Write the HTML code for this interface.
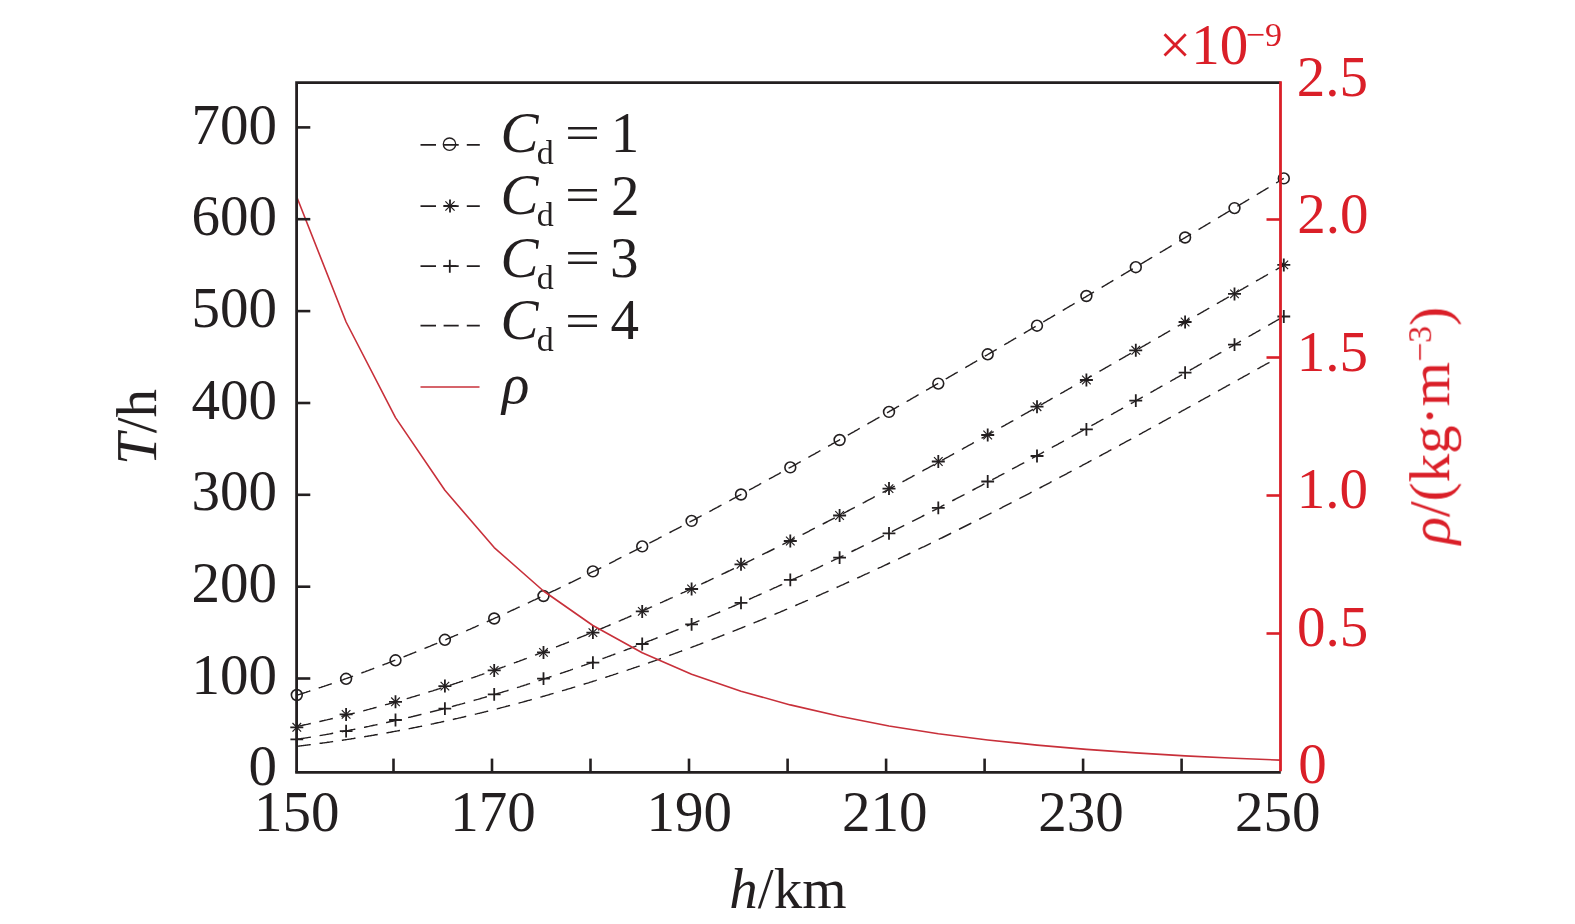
<!DOCTYPE html><html><head><meta charset="utf-8"><style>html,body{margin:0;padding:0;background:#fff;}svg{display:block;}svg text{will-change:transform;}text{font-family:"Liberation Serif","Times New Roman",serif;}</style></head><body>
<svg width="1575" height="924" viewBox="0 0 1575 924">
<rect x="0" y="0" width="1575" height="924" fill="#fff"/>
<polyline points="296.8,695.3 297.8,694.9 298.8,694.6 299.8,694.3 300.8,694.0 301.8,693.7 302.8,693.3 303.8,693.0 304.8,692.7 305.8,692.4 306.8,692.0 307.8,691.7 308.8,691.4 309.8,691.0 310.8,690.7 311.8,690.4 312.8,690.1 313.8,689.7 314.8,689.4 315.8,689.1 316.8,688.7 317.8,688.4 318.8,688.0 319.8,687.7 320.8,687.4 321.8,687.0 322.8,686.7 323.8,686.4 324.8,686.0 325.8,685.7 326.8,685.3 327.8,685.0 328.8,684.6 329.8,684.3 330.8,684.0 331.8,683.6 332.8,683.3 333.8,682.9 334.8,682.6 335.8,682.2 336.8,681.9 337.8,681.5 338.8,681.2 339.8,680.8 340.8,680.5 341.8,680.1 342.8,679.8 343.8,679.4 344.8,679.0 345.8,678.7 346.8,678.3 347.8,678.0 348.8,677.6 349.8,677.3 350.8,676.9 351.8,676.5 352.8,676.2 353.8,675.8 354.8,675.4 355.8,675.1 356.8,674.7 357.8,674.4 358.8,674.0 359.8,673.6 360.8,673.3 361.8,672.9 362.8,672.5 363.8,672.1 364.8,671.8 365.8,671.4 366.8,671.0 367.8,670.7 368.8,670.3 369.8,669.9 370.8,669.5 371.8,669.2 372.8,668.8 373.8,668.4 374.8,668.0 375.8,667.7 376.8,667.3 377.8,666.9 378.8,666.5 379.8,666.1 380.8,665.8 381.8,665.4 382.8,665.0 383.8,664.6 384.8,664.2 385.8,663.8 386.8,663.5 387.8,663.1 388.8,662.7 389.8,662.3 390.8,661.9 391.8,661.5 392.8,661.1 393.8,660.7 394.8,660.3 395.8,660.0 396.8,659.6 397.8,659.2 398.8,658.8 399.8,658.4 400.8,658.0 401.8,657.6 402.8,657.2 403.8,656.8 404.8,656.4 405.8,656.0 406.8,655.6 407.8,655.2 408.8,654.8 409.8,654.4 410.8,654.0 411.8,653.6 412.8,653.2 413.8,652.8 414.8,652.4 415.8,652.0 416.8,651.6 417.8,651.2 418.8,650.8 419.8,650.4 420.8,650.0 421.8,649.5 422.8,649.1 423.8,648.7 424.8,648.3 425.8,647.9 426.8,647.5 427.8,647.1 428.8,646.7 429.8,646.3 430.8,645.8 431.8,645.4 432.8,645.0 433.8,644.6 434.8,644.2 435.8,643.8 436.8,643.4 437.8,642.9 438.8,642.5 439.8,642.1 440.8,641.7 441.8,641.3 442.8,640.8 443.8,640.4 444.8,640.0 445.8,639.6 446.8,639.1 447.8,638.7 448.8,638.3 449.8,637.9 450.8,637.4 451.8,637.0 452.8,636.6 453.8,636.2 454.8,635.7 455.8,635.3 456.8,634.9 457.8,634.5 458.8,634.0 459.8,633.6 460.8,633.2 461.8,632.7 462.8,632.3 463.8,631.9 464.8,631.4 465.8,631.0 466.8,630.6 467.8,630.1 468.8,629.7 469.8,629.3 470.8,628.8 471.8,628.4 472.8,627.9 473.8,627.5 474.8,627.1 475.8,626.6 476.8,626.2 477.8,625.7 478.8,625.3 479.8,624.9 480.8,624.4 481.8,624.0 482.8,623.5 483.8,623.1 484.8,622.6 485.8,622.2 486.8,621.8 487.8,621.3 488.8,620.9 489.8,620.4 490.8,620.0 491.8,619.5 492.8,619.1 493.8,618.6 494.8,618.2 495.8,617.7 496.8,617.3 497.8,616.8 498.8,616.4 499.8,615.9 500.8,615.5 501.8,615.0 502.8,614.5 503.8,614.1 504.8,613.6 505.8,613.2 506.8,612.7 507.8,612.3 508.8,611.8 509.8,611.4 510.8,610.9 511.8,610.4 512.8,610.0 513.8,609.5 514.8,609.1 515.8,608.6 516.8,608.1 517.8,607.7 518.8,607.2 519.8,606.8 520.8,606.3 521.8,605.8 522.8,605.4 523.8,604.9 524.8,604.4 525.8,604.0 526.8,603.5 527.8,603.0 528.8,602.6 529.8,602.1 530.8,601.6 531.8,601.2 532.8,600.7 533.8,600.2 534.8,599.8 535.8,599.3 536.8,598.8 537.8,598.3 538.8,597.9 539.8,597.4 540.8,596.9 541.8,596.5 542.8,596.0 543.8,595.5 544.8,595.0 545.8,594.6 546.8,594.1 547.8,593.6 548.8,593.1 549.8,592.7 550.8,592.2 551.8,591.7 552.8,591.2 553.8,590.7 554.8,590.3 555.8,589.8 556.8,589.3 557.8,588.8 558.8,588.3 559.8,587.9 560.8,587.4 561.8,586.9 562.8,586.4 563.8,585.9 564.8,585.5 565.8,585.0 566.8,584.5 567.8,584.0 568.8,583.5 569.8,583.0 570.8,582.5 571.8,582.1 572.8,581.6 573.8,581.1 574.8,580.6 575.8,580.1 576.8,579.6 577.8,579.1 578.8,578.6 579.8,578.1 580.8,577.7 581.8,577.2 582.8,576.7 583.8,576.2 584.8,575.7 585.8,575.2 586.8,574.7 587.8,574.2 588.8,573.7 589.8,573.2 590.8,572.7 591.8,572.2 592.8,571.7 593.8,571.2 594.8,570.8 595.8,570.3 596.8,569.8 597.8,569.3 598.8,568.8 599.8,568.3 600.8,567.8 601.8,567.3 602.8,566.8 603.8,566.3 604.8,565.8 605.8,565.3 606.8,564.8 607.8,564.3 608.8,563.8 609.8,563.3 610.8,562.8 611.8,562.3 612.8,561.8 613.8,561.3 614.8,560.8 615.8,560.2 616.8,559.7 617.8,559.2 618.8,558.7 619.8,558.2 620.8,557.7 621.8,557.2 622.8,556.7 623.8,556.2 624.8,555.7 625.8,555.2 626.8,554.7 627.8,554.2 628.8,553.7 629.8,553.2 630.8,552.6 631.8,552.1 632.8,551.6 633.8,551.1 634.8,550.6 635.8,550.1 636.8,549.6 637.8,549.1 638.8,548.6 639.8,548.0 640.8,547.5 641.8,547.0 642.8,546.5 643.8,546.0 644.8,545.5 645.8,545.0 646.8,544.4 647.8,543.9 648.8,543.4 649.8,542.9 650.8,542.4 651.8,541.9 652.8,541.3 653.8,540.8 654.8,540.3 655.8,539.8 656.8,539.3 657.8,538.8 658.8,538.2 659.8,537.7 660.8,537.2 661.8,536.7 662.8,536.2 663.8,535.6 664.8,535.1 665.8,534.6 666.8,534.1 667.8,533.5 668.8,533.0 669.8,532.5 670.8,532.0 671.8,531.5 672.8,530.9 673.8,530.4 674.8,529.9 675.8,529.4 676.8,528.8 677.8,528.3 678.8,527.8 679.8,527.3 680.8,526.7 681.8,526.2 682.8,525.7 683.8,525.1 684.8,524.6 685.8,524.1 686.8,523.6 687.8,523.0 688.8,522.5 689.8,522.0 690.8,521.4 691.8,520.9 692.8,520.4 693.8,519.9 694.8,519.3 695.8,518.8 696.8,518.3 697.8,517.7 698.8,517.2 699.8,516.7 700.8,516.1 701.8,515.6 702.8,515.1 703.8,514.5 704.8,514.0 705.8,513.5 706.8,512.9 707.8,512.4 708.8,511.9 709.8,511.3 710.8,510.8 711.8,510.3 712.8,509.7 713.8,509.2 714.8,508.6 715.8,508.1 716.8,507.6 717.8,507.0 718.8,506.5 719.8,506.0 720.8,505.4 721.8,504.9 722.8,504.3 723.8,503.8 724.8,503.3 725.8,502.7 726.8,502.2 727.8,501.7 728.8,501.1 729.8,500.6 730.8,500.0 731.8,499.5 732.8,498.9 733.8,498.4 734.8,497.9 735.8,497.3 736.8,496.8 737.8,496.2 738.8,495.7 739.8,495.2 740.8,494.6 741.8,494.1 742.8,493.5 743.8,493.0 744.8,492.4 745.8,491.9 746.8,491.3 747.8,490.8 748.8,490.3 749.8,489.7 750.8,489.2 751.8,488.6 752.8,488.1 753.8,487.5 754.8,487.0 755.8,486.4 756.8,485.9 757.8,485.3 758.8,484.8 759.8,484.2 760.8,483.7 761.8,483.1 762.8,482.6 763.8,482.0 764.8,481.5 765.8,480.9 766.8,480.4 767.8,479.8 768.8,479.3 769.8,478.7 770.8,478.2 771.8,477.6 772.8,477.1 773.8,476.5 774.8,476.0 775.8,475.4 776.8,474.9 777.8,474.3 778.8,473.8 779.8,473.2 780.8,472.7 781.8,472.1 782.8,471.6 783.8,471.0 784.8,470.5 785.8,469.9 786.8,469.4 787.8,468.8 788.8,468.2 789.8,467.7 790.8,467.1 791.8,466.6 792.8,466.0 793.8,465.5 794.8,464.9 795.8,464.4 796.8,463.8 797.8,463.2 798.8,462.7 799.8,462.1 800.8,461.6 801.8,461.0 802.8,460.5 803.8,459.9 804.8,459.3 805.8,458.8 806.8,458.2 807.8,457.7 808.8,457.1 809.8,456.5 810.8,456.0 811.8,455.4 812.8,454.9 813.8,454.3 814.8,453.8 815.8,453.2 816.8,452.6 817.8,452.1 818.8,451.5 819.8,450.9 820.8,450.4 821.8,449.8 822.8,449.3 823.8,448.7 824.8,448.1 825.8,447.6 826.8,447.0 827.8,446.5 828.8,445.9 829.8,445.3 830.8,444.8 831.8,444.2 832.8,443.6 833.8,443.1 834.8,442.5 835.8,441.9 836.8,441.4 837.8,440.8 838.8,440.3 839.8,439.7 840.8,439.1 841.8,438.6 842.8,438.0 843.8,437.4 844.8,436.9 845.8,436.3 846.8,435.7 847.8,435.2 848.8,434.6 849.8,434.0 850.8,433.5 851.8,432.9 852.8,432.3 853.8,431.8 854.8,431.2 855.8,430.6 856.8,430.1 857.8,429.5 858.8,428.9 859.8,428.4 860.8,427.8 861.8,427.2 862.8,426.7 863.8,426.1 864.8,425.5 865.8,424.9 866.8,424.4 867.8,423.8 868.8,423.2 869.8,422.7 870.8,422.1 871.8,421.5 872.8,421.0 873.8,420.4 874.8,419.8 875.8,419.2 876.8,418.7 877.8,418.1 878.8,417.5 879.8,417.0 880.8,416.4 881.8,415.8 882.8,415.2 883.8,414.7 884.8,414.1 885.8,413.5 886.8,413.0 887.8,412.4 888.8,411.8 889.8,411.2 890.8,410.7 891.8,410.1 892.8,409.5 893.8,408.9 894.8,408.4 895.8,407.8 896.8,407.2 897.8,406.7 898.8,406.1 899.8,405.5 900.8,404.9 901.8,404.4 902.8,403.8 903.8,403.2 904.8,402.6 905.8,402.1 906.8,401.5 907.8,400.9 908.8,400.3 909.8,399.8 910.8,399.2 911.8,398.6 912.8,398.0 913.8,397.4 914.8,396.9 915.8,396.3 916.8,395.7 917.8,395.1 918.8,394.6 919.8,394.0 920.8,393.4 921.8,392.8 922.8,392.3 923.8,391.7 924.8,391.1 925.8,390.5 926.8,389.9 927.8,389.4 928.8,388.8 929.8,388.2 930.8,387.6 931.8,387.1 932.8,386.5 933.8,385.9 934.8,385.3 935.8,384.7 936.8,384.2 937.8,383.6 938.8,383.0 939.8,382.4 940.8,381.8 941.8,381.3 942.8,380.7 943.8,380.1 944.8,379.5 945.8,378.9 946.8,378.4 947.8,377.8 948.8,377.2 949.8,376.6 950.8,376.0 951.8,375.5 952.8,374.9 953.8,374.3 954.8,373.7 955.8,373.1 956.8,372.6 957.8,372.0 958.8,371.4 959.8,370.8 960.8,370.2 961.8,369.6 962.8,369.1 963.8,368.5 964.8,367.9 965.8,367.3 966.8,366.7 967.8,366.2 968.8,365.6 969.8,365.0 970.8,364.4 971.8,363.8 972.8,363.2 973.8,362.7 974.8,362.1 975.8,361.5 976.8,360.9 977.8,360.3 978.8,359.7 979.8,359.2 980.8,358.6 981.8,358.0 982.8,357.4 983.8,356.8 984.8,356.2 985.8,355.6 986.8,355.1 987.8,354.5 988.8,353.9 989.8,353.3 990.8,352.7 991.8,352.1 992.8,351.6 993.8,351.0 994.8,350.4 995.8,349.8 996.8,349.2 997.8,348.6 998.8,348.0 999.8,347.5 1000.8,346.9 1001.8,346.3 1002.8,345.7 1003.8,345.1 1004.8,344.5 1005.8,343.9 1006.8,343.3 1007.8,342.8 1008.8,342.2 1009.8,341.6 1010.8,341.0 1011.8,340.4 1012.8,339.8 1013.8,339.2 1014.8,338.7 1015.8,338.1 1016.8,337.5 1017.8,336.9 1018.8,336.3 1019.8,335.7 1020.8,335.1 1021.8,334.5 1022.8,334.0 1023.8,333.4 1024.8,332.8 1025.8,332.2 1026.8,331.6 1027.8,331.0 1028.8,330.4 1029.8,329.8 1030.8,329.2 1031.8,328.7 1032.8,328.1 1033.8,327.5 1034.8,326.9 1035.8,326.3 1036.8,325.7 1037.8,325.1 1038.8,324.5 1039.8,323.9 1040.8,323.4 1041.8,322.8 1042.8,322.2 1043.8,321.6 1044.8,321.0 1045.8,320.4 1046.8,319.8 1047.8,319.2 1048.8,318.6 1049.8,318.1 1050.8,317.5 1051.8,316.9 1052.8,316.3 1053.8,315.7 1054.8,315.1 1055.8,314.5 1056.8,313.9 1057.8,313.3 1058.8,312.7 1059.8,312.1 1060.8,311.6 1061.8,311.0 1062.8,310.4 1063.8,309.8 1064.8,309.2 1065.8,308.6 1066.8,308.0 1067.8,307.4 1068.8,306.8 1069.8,306.2 1070.8,305.6 1071.8,305.1 1072.8,304.5 1073.8,303.9 1074.8,303.3 1075.8,302.7 1076.8,302.1 1077.8,301.5 1078.8,300.9 1079.8,300.3 1080.8,299.7 1081.8,299.1 1082.8,298.5 1083.8,297.9 1084.8,297.4 1085.8,296.8 1086.8,296.2 1087.8,295.6 1088.8,295.0 1089.8,294.4 1090.8,293.8 1091.8,293.2 1092.8,292.6 1093.8,292.0 1094.8,291.4 1095.8,290.8 1096.8,290.2 1097.8,289.6 1098.8,289.1 1099.8,288.5 1100.8,287.9 1101.8,287.3 1102.8,286.7 1103.8,286.1 1104.8,285.5 1105.8,284.9 1106.8,284.3 1107.8,283.7 1108.8,283.1 1109.8,282.5 1110.8,281.9 1111.8,281.3 1112.8,280.7 1113.8,280.1 1114.8,279.6 1115.8,279.0 1116.8,278.4 1117.8,277.8 1118.8,277.2 1119.8,276.6 1120.8,276.0 1121.8,275.4 1122.8,274.8 1123.8,274.2 1124.8,273.6 1125.8,273.0 1126.8,272.4 1127.8,271.8 1128.8,271.2 1129.8,270.6 1130.8,270.0 1131.8,269.4 1132.8,268.8 1133.8,268.2 1134.8,267.7 1135.8,267.1 1136.8,266.5 1137.8,265.9 1138.8,265.3 1139.8,264.7 1140.8,264.1 1141.8,263.5 1142.8,262.9 1143.8,262.3 1144.8,261.7 1145.8,261.1 1146.8,260.5 1147.8,259.9 1148.8,259.3 1149.8,258.7 1150.8,258.1 1151.8,257.5 1152.8,256.9 1153.8,256.3 1154.8,255.7 1155.8,255.1 1156.8,254.5 1157.8,253.9 1158.8,253.3 1159.8,252.7 1160.8,252.1 1161.8,251.6 1162.8,251.0 1163.8,250.4 1164.8,249.8 1165.8,249.2 1166.8,248.6 1167.8,248.0 1168.8,247.4 1169.8,246.8 1170.8,246.2 1171.8,245.6 1172.8,245.0 1173.8,244.4 1174.8,243.8 1175.8,243.2 1176.8,242.6 1177.8,242.0 1178.8,241.4 1179.8,240.8 1180.8,240.2 1181.8,239.6 1182.8,239.0 1183.8,238.4 1184.8,237.8 1185.8,237.2 1186.8,236.6 1187.8,236.0 1188.8,235.4 1189.8,234.8 1190.8,234.2 1191.8,233.6 1192.8,233.0 1193.8,232.4 1194.8,231.8 1195.8,231.2 1196.8,230.6 1197.8,230.0 1198.8,229.4 1199.8,228.8 1200.8,228.2 1201.8,227.6 1202.8,227.0 1203.8,226.4 1204.8,225.8 1205.8,225.2 1206.8,224.6 1207.8,224.0 1208.8,223.4 1209.8,222.8 1210.8,222.2 1211.8,221.6 1212.8,221.0 1213.8,220.4 1214.8,219.8 1215.8,219.2 1216.8,218.6 1217.8,218.0 1218.8,217.4 1219.8,216.8 1220.8,216.2 1221.8,215.6 1222.8,215.0 1223.8,214.4 1224.8,213.8 1225.8,213.2 1226.8,212.6 1227.8,212.0 1228.8,211.4 1229.8,210.8 1230.8,210.2 1231.8,209.6 1232.8,209.0 1233.8,208.4 1234.8,207.8 1235.8,207.2 1236.8,206.6 1237.8,206.0 1238.8,205.4 1239.8,204.8 1240.8,204.2 1241.8,203.6 1242.8,203.0 1243.8,202.4 1244.8,201.8 1245.8,201.2 1246.8,200.6 1247.8,200.0 1248.8,199.4 1249.8,198.8 1250.8,198.2 1251.8,197.6 1252.8,197.0 1253.8,196.4 1254.8,195.8 1255.8,195.2 1256.8,194.6 1257.8,194.0 1258.8,193.4 1259.8,192.8 1260.8,192.2 1261.8,191.6 1262.8,191.0 1263.8,190.4 1264.8,189.8 1265.8,189.2 1266.8,188.6 1267.8,188.0 1268.8,187.4 1269.8,186.8 1270.8,186.2 1271.8,185.6 1272.8,185.0 1273.8,184.4 1274.8,183.8 1275.8,183.2 1276.8,182.6 1277.8,182.0 1278.8,181.4 1279.8,180.7 1280.8,180.1 1281.8,179.5 1282.8,178.9 1283.8,178.3" fill="none" stroke="#231f20" stroke-width="1.4" stroke-dasharray="13.8 8.8" stroke-dashoffset="22.1"/>
<polyline points="296.8,726.5 297.8,726.3 298.8,726.1 299.8,725.9 300.8,725.7 301.8,725.5 302.8,725.2 303.8,725.0 304.8,724.8 305.8,724.6 306.8,724.4 307.8,724.2 308.8,723.9 309.8,723.7 310.8,723.5 311.8,723.3 312.8,723.1 313.8,722.8 314.8,722.6 315.8,722.4 316.8,722.2 317.8,721.9 318.8,721.7 319.8,721.5 320.8,721.3 321.8,721.0 322.8,720.8 323.8,720.6 324.8,720.3 325.8,720.1 326.8,719.9 327.8,719.6 328.8,719.4 329.8,719.2 330.8,718.9 331.8,718.7 332.8,718.5 333.8,718.2 334.8,718.0 335.8,717.7 336.8,717.5 337.8,717.2 338.8,717.0 339.8,716.8 340.8,716.5 341.8,716.3 342.8,716.0 343.8,715.8 344.8,715.5 345.8,715.3 346.8,715.0 347.8,714.8 348.8,714.5 349.8,714.3 350.8,714.0 351.8,713.8 352.8,713.5 353.8,713.3 354.8,713.0 355.8,712.8 356.8,712.5 357.8,712.2 358.8,712.0 359.8,711.7 360.8,711.5 361.8,711.2 362.8,710.9 363.8,710.7 364.8,710.4 365.8,710.2 366.8,709.9 367.8,709.6 368.8,709.4 369.8,709.1 370.8,708.8 371.8,708.6 372.8,708.3 373.8,708.0 374.8,707.7 375.8,707.5 376.8,707.2 377.8,706.9 378.8,706.6 379.8,706.4 380.8,706.1 381.8,705.8 382.8,705.5 383.8,705.3 384.8,705.0 385.8,704.7 386.8,704.4 387.8,704.2 388.8,703.9 389.8,703.6 390.8,703.3 391.8,703.0 392.8,702.7 393.8,702.5 394.8,702.2 395.8,701.9 396.8,701.6 397.8,701.3 398.8,701.0 399.8,700.7 400.8,700.4 401.8,700.1 402.8,699.9 403.8,699.6 404.8,699.3 405.8,699.0 406.8,698.7 407.8,698.4 408.8,698.1 409.8,697.8 410.8,697.5 411.8,697.2 412.8,696.9 413.8,696.6 414.8,696.3 415.8,696.0 416.8,695.7 417.8,695.4 418.8,695.1 419.8,694.8 420.8,694.5 421.8,694.2 422.8,693.9 423.8,693.6 424.8,693.2 425.8,692.9 426.8,692.6 427.8,692.3 428.8,692.0 429.8,691.7 430.8,691.4 431.8,691.1 432.8,690.8 433.8,690.4 434.8,690.1 435.8,689.8 436.8,689.5 437.8,689.2 438.8,688.9 439.8,688.5 440.8,688.2 441.8,687.9 442.8,687.6 443.8,687.3 444.8,686.9 445.8,686.6 446.8,686.3 447.8,686.0 448.8,685.7 449.8,685.3 450.8,685.0 451.8,684.7 452.8,684.3 453.8,684.0 454.8,683.7 455.8,683.4 456.8,683.0 457.8,682.7 458.8,682.4 459.8,682.0 460.8,681.7 461.8,681.4 462.8,681.0 463.8,680.7 464.8,680.4 465.8,680.0 466.8,679.7 467.8,679.4 468.8,679.0 469.8,678.7 470.8,678.3 471.8,678.0 472.8,677.7 473.8,677.3 474.8,677.0 475.8,676.6 476.8,676.3 477.8,675.9 478.8,675.6 479.8,675.2 480.8,674.9 481.8,674.6 482.8,674.2 483.8,673.9 484.8,673.5 485.8,673.2 486.8,672.8 487.8,672.5 488.8,672.1 489.8,671.8 490.8,671.4 491.8,671.1 492.8,670.7 493.8,670.3 494.8,670.0 495.8,669.6 496.8,669.3 497.8,668.9 498.8,668.6 499.8,668.2 500.8,667.8 501.8,667.5 502.8,667.1 503.8,666.8 504.8,666.4 505.8,666.0 506.8,665.7 507.8,665.3 508.8,664.9 509.8,664.6 510.8,664.2 511.8,663.8 512.8,663.5 513.8,663.1 514.8,662.7 515.8,662.4 516.8,662.0 517.8,661.6 518.8,661.3 519.8,660.9 520.8,660.5 521.8,660.2 522.8,659.8 523.8,659.4 524.8,659.0 525.8,658.7 526.8,658.3 527.8,657.9 528.8,657.5 529.8,657.1 530.8,656.8 531.8,656.4 532.8,656.0 533.8,655.6 534.8,655.3 535.8,654.9 536.8,654.5 537.8,654.1 538.8,653.7 539.8,653.3 540.8,653.0 541.8,652.6 542.8,652.2 543.8,651.8 544.8,651.4 545.8,651.0 546.8,650.6 547.8,650.2 548.8,649.9 549.8,649.5 550.8,649.1 551.8,648.7 552.8,648.3 553.8,647.9 554.8,647.5 555.8,647.1 556.8,646.7 557.8,646.3 558.8,645.9 559.8,645.5 560.8,645.1 561.8,644.7 562.8,644.4 563.8,644.0 564.8,643.6 565.8,643.2 566.8,642.8 567.8,642.4 568.8,642.0 569.8,641.6 570.8,641.2 571.8,640.7 572.8,640.3 573.8,639.9 574.8,639.5 575.8,639.1 576.8,638.7 577.8,638.3 578.8,637.9 579.8,637.5 580.8,637.1 581.8,636.7 582.8,636.3 583.8,635.9 584.8,635.5 585.8,635.1 586.8,634.6 587.8,634.2 588.8,633.8 589.8,633.4 590.8,633.0 591.8,632.6 592.8,632.2 593.8,631.8 594.8,631.3 595.8,630.9 596.8,630.5 597.8,630.1 598.8,629.7 599.8,629.3 600.8,628.8 601.8,628.4 602.8,628.0 603.8,627.6 604.8,627.2 605.8,626.7 606.8,626.3 607.8,625.9 608.8,625.5 609.8,625.0 610.8,624.6 611.8,624.2 612.8,623.8 613.8,623.3 614.8,622.9 615.8,622.5 616.8,622.1 617.8,621.6 618.8,621.2 619.8,620.8 620.8,620.3 621.8,619.9 622.8,619.5 623.8,619.1 624.8,618.6 625.8,618.2 626.8,617.8 627.8,617.3 628.8,616.9 629.8,616.5 630.8,616.0 631.8,615.6 632.8,615.1 633.8,614.7 634.8,614.3 635.8,613.8 636.8,613.4 637.8,613.0 638.8,612.5 639.8,612.1 640.8,611.6 641.8,611.2 642.8,610.8 643.8,610.3 644.8,609.9 645.8,609.4 646.8,609.0 647.8,608.5 648.8,608.1 649.8,607.7 650.8,607.2 651.8,606.8 652.8,606.3 653.8,605.9 654.8,605.4 655.8,605.0 656.8,604.5 657.8,604.1 658.8,603.6 659.8,603.2 660.8,602.7 661.8,602.3 662.8,601.8 663.8,601.4 664.8,600.9 665.8,600.5 666.8,600.0 667.8,599.6 668.8,599.1 669.8,598.7 670.8,598.2 671.8,597.8 672.8,597.3 673.8,596.8 674.8,596.4 675.8,595.9 676.8,595.5 677.8,595.0 678.8,594.6 679.8,594.1 680.8,593.6 681.8,593.2 682.8,592.7 683.8,592.3 684.8,591.8 685.8,591.3 686.8,590.9 687.8,590.4 688.8,589.9 689.8,589.5 690.8,589.0 691.8,588.6 692.8,588.1 693.8,587.6 694.8,587.2 695.8,586.7 696.8,586.2 697.8,585.8 698.8,585.3 699.8,584.8 700.8,584.3 701.8,583.9 702.8,583.4 703.8,582.9 704.8,582.5 705.8,582.0 706.8,581.5 707.8,581.1 708.8,580.6 709.8,580.1 710.8,579.6 711.8,579.2 712.8,578.7 713.8,578.2 714.8,577.7 715.8,577.3 716.8,576.8 717.8,576.3 718.8,575.8 719.8,575.4 720.8,574.9 721.8,574.4 722.8,573.9 723.8,573.4 724.8,573.0 725.8,572.5 726.8,572.0 727.8,571.5 728.8,571.0 729.8,570.6 730.8,570.1 731.8,569.6 732.8,569.1 733.8,568.6 734.8,568.1 735.8,567.7 736.8,567.2 737.8,566.7 738.8,566.2 739.8,565.7 740.8,565.2 741.8,564.7 742.8,564.3 743.8,563.8 744.8,563.3 745.8,562.8 746.8,562.3 747.8,561.8 748.8,561.3 749.8,560.8 750.8,560.4 751.8,559.9 752.8,559.4 753.8,558.9 754.8,558.4 755.8,557.9 756.8,557.4 757.8,556.9 758.8,556.4 759.8,555.9 760.8,555.4 761.8,554.9 762.8,554.4 763.8,553.9 764.8,553.4 765.8,552.9 766.8,552.5 767.8,552.0 768.8,551.5 769.8,551.0 770.8,550.5 771.8,550.0 772.8,549.5 773.8,549.0 774.8,548.5 775.8,548.0 776.8,547.5 777.8,547.0 778.8,546.5 779.8,546.0 780.8,545.5 781.8,545.0 782.8,544.5 783.8,543.9 784.8,543.4 785.8,542.9 786.8,542.4 787.8,541.9 788.8,541.4 789.8,540.9 790.8,540.4 791.8,539.9 792.8,539.4 793.8,538.9 794.8,538.4 795.8,537.9 796.8,537.4 797.8,536.9 798.8,536.4 799.8,535.8 800.8,535.3 801.8,534.8 802.8,534.3 803.8,533.8 804.8,533.3 805.8,532.8 806.8,532.3 807.8,531.8 808.8,531.3 809.8,530.7 810.8,530.2 811.8,529.7 812.8,529.2 813.8,528.7 814.8,528.2 815.8,527.7 816.8,527.1 817.8,526.6 818.8,526.1 819.8,525.6 820.8,525.1 821.8,524.6 822.8,524.0 823.8,523.5 824.8,523.0 825.8,522.5 826.8,522.0 827.8,521.5 828.8,520.9 829.8,520.4 830.8,519.9 831.8,519.4 832.8,518.9 833.8,518.3 834.8,517.8 835.8,517.3 836.8,516.8 837.8,516.2 838.8,515.7 839.8,515.2 840.8,514.7 841.8,514.2 842.8,513.6 843.8,513.1 844.8,512.6 845.8,512.1 846.8,511.5 847.8,511.0 848.8,510.5 849.8,510.0 850.8,509.4 851.8,508.9 852.8,508.4 853.8,507.9 854.8,507.3 855.8,506.8 856.8,506.3 857.8,505.7 858.8,505.2 859.8,504.7 860.8,504.2 861.8,503.6 862.8,503.1 863.8,502.6 864.8,502.0 865.8,501.5 866.8,501.0 867.8,500.4 868.8,499.9 869.8,499.4 870.8,498.8 871.8,498.3 872.8,497.8 873.8,497.2 874.8,496.7 875.8,496.2 876.8,495.6 877.8,495.1 878.8,494.6 879.8,494.0 880.8,493.5 881.8,493.0 882.8,492.4 883.8,491.9 884.8,491.4 885.8,490.8 886.8,490.3 887.8,489.8 888.8,489.2 889.8,488.7 890.8,488.1 891.8,487.6 892.8,487.1 893.8,486.5 894.8,486.0 895.8,485.4 896.8,484.9 897.8,484.4 898.8,483.8 899.8,483.3 900.8,482.7 901.8,482.2 902.8,481.7 903.8,481.1 904.8,480.6 905.8,480.0 906.8,479.5 907.8,479.0 908.8,478.4 909.8,477.9 910.8,477.3 911.8,476.8 912.8,476.2 913.8,475.7 914.8,475.2 915.8,474.6 916.8,474.1 917.8,473.5 918.8,473.0 919.8,472.4 920.8,471.9 921.8,471.3 922.8,470.8 923.8,470.2 924.8,469.7 925.8,469.2 926.8,468.6 927.8,468.1 928.8,467.5 929.8,467.0 930.8,466.4 931.8,465.9 932.8,465.3 933.8,464.8 934.8,464.2 935.8,463.7 936.8,463.1 937.8,462.6 938.8,462.0 939.8,461.5 940.8,460.9 941.8,460.4 942.8,459.8 943.8,459.3 944.8,458.7 945.8,458.2 946.8,457.6 947.8,457.1 948.8,456.5 949.8,456.0 950.8,455.4 951.8,454.9 952.8,454.3 953.8,453.7 954.8,453.2 955.8,452.6 956.8,452.1 957.8,451.5 958.8,451.0 959.8,450.4 960.8,449.9 961.8,449.3 962.8,448.8 963.8,448.2 964.8,447.6 965.8,447.1 966.8,446.5 967.8,446.0 968.8,445.4 969.8,444.9 970.8,444.3 971.8,443.8 972.8,443.2 973.8,442.6 974.8,442.1 975.8,441.5 976.8,441.0 977.8,440.4 978.8,439.8 979.8,439.3 980.8,438.7 981.8,438.2 982.8,437.6 983.8,437.1 984.8,436.5 985.8,435.9 986.8,435.4 987.8,434.8 988.8,434.3 989.8,433.7 990.8,433.1 991.8,432.6 992.8,432.0 993.8,431.5 994.8,430.9 995.8,430.3 996.8,429.8 997.8,429.2 998.8,428.6 999.8,428.1 1000.8,427.5 1001.8,427.0 1002.8,426.4 1003.8,425.8 1004.8,425.3 1005.8,424.7 1006.8,424.1 1007.8,423.6 1008.8,423.0 1009.8,422.5 1010.8,421.9 1011.8,421.3 1012.8,420.8 1013.8,420.2 1014.8,419.6 1015.8,419.1 1016.8,418.5 1017.8,417.9 1018.8,417.4 1019.8,416.8 1020.8,416.2 1021.8,415.7 1022.8,415.1 1023.8,414.5 1024.8,414.0 1025.8,413.4 1026.8,412.9 1027.8,412.3 1028.8,411.7 1029.8,411.2 1030.8,410.6 1031.8,410.0 1032.8,409.4 1033.8,408.9 1034.8,408.3 1035.8,407.7 1036.8,407.2 1037.8,406.6 1038.8,406.0 1039.8,405.5 1040.8,404.9 1041.8,404.3 1042.8,403.8 1043.8,403.2 1044.8,402.6 1045.8,402.1 1046.8,401.5 1047.8,400.9 1048.8,400.4 1049.8,399.8 1050.8,399.2 1051.8,398.6 1052.8,398.1 1053.8,397.5 1054.8,396.9 1055.8,396.4 1056.8,395.8 1057.8,395.2 1058.8,394.7 1059.8,394.1 1060.8,393.5 1061.8,392.9 1062.8,392.4 1063.8,391.8 1064.8,391.2 1065.8,390.7 1066.8,390.1 1067.8,389.5 1068.8,388.9 1069.8,388.4 1070.8,387.8 1071.8,387.2 1072.8,386.7 1073.8,386.1 1074.8,385.5 1075.8,384.9 1076.8,384.4 1077.8,383.8 1078.8,383.2 1079.8,382.7 1080.8,382.1 1081.8,381.5 1082.8,380.9 1083.8,380.4 1084.8,379.8 1085.8,379.2 1086.8,378.6 1087.8,378.1 1088.8,377.5 1089.8,376.9 1090.8,376.4 1091.8,375.8 1092.8,375.2 1093.8,374.6 1094.8,374.1 1095.8,373.5 1096.8,372.9 1097.8,372.3 1098.8,371.8 1099.8,371.2 1100.8,370.6 1101.8,370.0 1102.8,369.5 1103.8,368.9 1104.8,368.3 1105.8,367.7 1106.8,367.2 1107.8,366.6 1108.8,366.0 1109.8,365.4 1110.8,364.9 1111.8,364.3 1112.8,363.7 1113.8,363.1 1114.8,362.6 1115.8,362.0 1116.8,361.4 1117.8,360.8 1118.8,360.3 1119.8,359.7 1120.8,359.1 1121.8,358.5 1122.8,358.0 1123.8,357.4 1124.8,356.8 1125.8,356.2 1126.8,355.7 1127.8,355.1 1128.8,354.5 1129.8,353.9 1130.8,353.4 1131.8,352.8 1132.8,352.2 1133.8,351.6 1134.8,351.0 1135.8,350.5 1136.8,349.9 1137.8,349.3 1138.8,348.7 1139.8,348.2 1140.8,347.6 1141.8,347.0 1142.8,346.4 1143.8,345.9 1144.8,345.3 1145.8,344.7 1146.8,344.1 1147.8,343.6 1148.8,343.0 1149.8,342.4 1150.8,341.8 1151.8,341.2 1152.8,340.7 1153.8,340.1 1154.8,339.5 1155.8,338.9 1156.8,338.4 1157.8,337.8 1158.8,337.2 1159.8,336.6 1160.8,336.1 1161.8,335.5 1162.8,334.9 1163.8,334.3 1164.8,333.7 1165.8,333.2 1166.8,332.6 1167.8,332.0 1168.8,331.4 1169.8,330.9 1170.8,330.3 1171.8,329.7 1172.8,329.1 1173.8,328.6 1174.8,328.0 1175.8,327.4 1176.8,326.8 1177.8,326.2 1178.8,325.7 1179.8,325.1 1180.8,324.5 1181.8,323.9 1182.8,323.4 1183.8,322.8 1184.8,322.2 1185.8,321.6 1186.8,321.0 1187.8,320.5 1188.8,319.9 1189.8,319.3 1190.8,318.7 1191.8,318.2 1192.8,317.6 1193.8,317.0 1194.8,316.4 1195.8,315.9 1196.8,315.3 1197.8,314.7 1198.8,314.1 1199.8,313.5 1200.8,313.0 1201.8,312.4 1202.8,311.8 1203.8,311.2 1204.8,310.7 1205.8,310.1 1206.8,309.5 1207.8,308.9 1208.8,308.4 1209.8,307.8 1210.8,307.2 1211.8,306.6 1212.8,306.0 1213.8,305.5 1214.8,304.9 1215.8,304.3 1216.8,303.7 1217.8,303.2 1218.8,302.6 1219.8,302.0 1220.8,301.4 1221.8,300.9 1222.8,300.3 1223.8,299.7 1224.8,299.1 1225.8,298.6 1226.8,298.0 1227.8,297.4 1228.8,296.8 1229.8,296.3 1230.8,295.7 1231.8,295.1 1232.8,294.5 1233.8,293.9 1234.8,293.4 1235.8,292.8 1236.8,292.2 1237.8,291.6 1238.8,291.1 1239.8,290.5 1240.8,289.9 1241.8,289.3 1242.8,288.8 1243.8,288.2 1244.8,287.6 1245.8,287.0 1246.8,286.5 1247.8,285.9 1248.8,285.3 1249.8,284.7 1250.8,284.2 1251.8,283.6 1252.8,283.0 1253.8,282.4 1254.8,281.9 1255.8,281.3 1256.8,280.7 1257.8,280.1 1258.8,279.6 1259.8,279.0 1260.8,278.4 1261.8,277.9 1262.8,277.3 1263.8,276.7 1264.8,276.1 1265.8,275.6 1266.8,275.0 1267.8,274.4 1268.8,273.8 1269.8,273.3 1270.8,272.7 1271.8,272.1 1272.8,271.5 1273.8,271.0 1274.8,270.4 1275.8,269.8 1276.8,269.3 1277.8,268.7 1278.8,268.1 1279.8,267.5 1280.8,267.0 1281.8,266.4 1282.8,265.8 1283.8,265.2" fill="none" stroke="#231f20" stroke-width="1.4" stroke-dasharray="13.8 8.8" stroke-dashoffset="22.1"/>
<polyline points="296.8,739.3 297.8,739.2 298.8,739.0 299.8,738.9 300.8,738.7 301.8,738.5 302.8,738.4 303.8,738.2 304.8,738.1 305.8,737.9 306.8,737.8 307.8,737.6 308.8,737.4 309.8,737.3 310.8,737.1 311.8,736.9 312.8,736.8 313.8,736.6 314.8,736.5 315.8,736.3 316.8,736.1 317.8,736.0 318.8,735.8 319.8,735.6 320.8,735.4 321.8,735.3 322.8,735.1 323.8,734.9 324.8,734.8 325.8,734.6 326.8,734.4 327.8,734.2 328.8,734.1 329.8,733.9 330.8,733.7 331.8,733.5 332.8,733.3 333.8,733.2 334.8,733.0 335.8,732.8 336.8,732.6 337.8,732.4 338.8,732.2 339.8,732.1 340.8,731.9 341.8,731.7 342.8,731.5 343.8,731.3 344.8,731.1 345.8,730.9 346.8,730.7 347.8,730.6 348.8,730.4 349.8,730.2 350.8,730.0 351.8,729.8 352.8,729.6 353.8,729.4 354.8,729.2 355.8,729.0 356.8,728.8 357.8,728.6 358.8,728.4 359.8,728.2 360.8,728.0 361.8,727.8 362.8,727.6 363.8,727.4 364.8,727.2 365.8,727.0 366.8,726.8 367.8,726.6 368.8,726.4 369.8,726.1 370.8,725.9 371.8,725.7 372.8,725.5 373.8,725.3 374.8,725.1 375.8,724.9 376.8,724.7 377.8,724.5 378.8,724.2 379.8,724.0 380.8,723.8 381.8,723.6 382.8,723.4 383.8,723.2 384.8,722.9 385.8,722.7 386.8,722.5 387.8,722.3 388.8,722.0 389.8,721.8 390.8,721.6 391.8,721.4 392.8,721.2 393.8,720.9 394.8,720.7 395.8,720.5 396.8,720.2 397.8,720.0 398.8,719.8 399.8,719.6 400.8,719.3 401.8,719.1 402.8,718.9 403.8,718.6 404.8,718.4 405.8,718.2 406.8,717.9 407.8,717.7 408.8,717.4 409.8,717.2 410.8,717.0 411.8,716.7 412.8,716.5 413.8,716.2 414.8,716.0 415.8,715.8 416.8,715.5 417.8,715.3 418.8,715.0 419.8,714.8 420.8,714.5 421.8,714.3 422.8,714.0 423.8,713.8 424.8,713.6 425.8,713.3 426.8,713.1 427.8,712.8 428.8,712.6 429.8,712.3 430.8,712.0 431.8,711.8 432.8,711.5 433.8,711.3 434.8,711.0 435.8,710.8 436.8,710.5 437.8,710.3 438.8,710.0 439.8,709.7 440.8,709.5 441.8,709.2 442.8,709.0 443.8,708.7 444.8,708.4 445.8,708.2 446.8,707.9 447.8,707.6 448.8,707.4 449.8,707.1 450.8,706.8 451.8,706.6 452.8,706.3 453.8,706.0 454.8,705.8 455.8,705.5 456.8,705.2 457.8,704.9 458.8,704.7 459.8,704.4 460.8,704.1 461.8,703.9 462.8,703.6 463.8,703.3 464.8,703.0 465.8,702.7 466.8,702.5 467.8,702.2 468.8,701.9 469.8,701.6 470.8,701.3 471.8,701.1 472.8,700.8 473.8,700.5 474.8,700.2 475.8,699.9 476.8,699.6 477.8,699.4 478.8,699.1 479.8,698.8 480.8,698.5 481.8,698.2 482.8,697.9 483.8,697.6 484.8,697.3 485.8,697.0 486.8,696.8 487.8,696.5 488.8,696.2 489.8,695.9 490.8,695.6 491.8,695.3 492.8,695.0 493.8,694.7 494.8,694.4 495.8,694.1 496.8,693.8 497.8,693.5 498.8,693.2 499.8,692.9 500.8,692.6 501.8,692.3 502.8,692.0 503.8,691.7 504.8,691.4 505.8,691.1 506.8,690.8 507.8,690.5 508.8,690.2 509.8,689.9 510.8,689.6 511.8,689.2 512.8,688.9 513.8,688.6 514.8,688.3 515.8,688.0 516.8,687.7 517.8,687.4 518.8,687.1 519.8,686.8 520.8,686.4 521.8,686.1 522.8,685.8 523.8,685.5 524.8,685.2 525.8,684.9 526.8,684.5 527.8,684.2 528.8,683.9 529.8,683.6 530.8,683.3 531.8,682.9 532.8,682.6 533.8,682.3 534.8,682.0 535.8,681.6 536.8,681.3 537.8,681.0 538.8,680.7 539.8,680.3 540.8,680.0 541.8,679.7 542.8,679.4 543.8,679.0 544.8,678.7 545.8,678.4 546.8,678.0 547.8,677.7 548.8,677.4 549.8,677.0 550.8,676.7 551.8,676.4 552.8,676.0 553.8,675.7 554.8,675.4 555.8,675.0 556.8,674.7 557.8,674.4 558.8,674.0 559.8,673.7 560.8,673.3 561.8,673.0 562.8,672.7 563.8,672.3 564.8,672.0 565.8,671.6 566.8,671.3 567.8,671.0 568.8,670.6 569.8,670.3 570.8,669.9 571.8,669.6 572.8,669.2 573.8,668.9 574.8,668.5 575.8,668.2 576.8,667.8 577.8,667.5 578.8,667.1 579.8,666.8 580.8,666.4 581.8,666.1 582.8,665.7 583.8,665.4 584.8,665.0 585.8,664.7 586.8,664.3 587.8,663.9 588.8,663.6 589.8,663.2 590.8,662.9 591.8,662.5 592.8,662.2 593.8,661.8 594.8,661.4 595.8,661.1 596.8,660.7 597.8,660.4 598.8,660.0 599.8,659.6 600.8,659.3 601.8,658.9 602.8,658.5 603.8,658.2 604.8,657.8 605.8,657.4 606.8,657.1 607.8,656.7 608.8,656.3 609.8,656.0 610.8,655.6 611.8,655.2 612.8,654.9 613.8,654.5 614.8,654.1 615.8,653.7 616.8,653.4 617.8,653.0 618.8,652.6 619.8,652.2 620.8,651.9 621.8,651.5 622.8,651.1 623.8,650.7 624.8,650.4 625.8,650.0 626.8,649.6 627.8,649.2 628.8,648.8 629.8,648.5 630.8,648.1 631.8,647.7 632.8,647.3 633.8,646.9 634.8,646.6 635.8,646.2 636.8,645.8 637.8,645.4 638.8,645.0 639.8,644.6 640.8,644.2 641.8,643.9 642.8,643.5 643.8,643.1 644.8,642.7 645.8,642.3 646.8,641.9 647.8,641.5 648.8,641.1 649.8,640.7 650.8,640.4 651.8,640.0 652.8,639.6 653.8,639.2 654.8,638.8 655.8,638.4 656.8,638.0 657.8,637.6 658.8,637.2 659.8,636.8 660.8,636.4 661.8,636.0 662.8,635.6 663.8,635.2 664.8,634.8 665.8,634.4 666.8,634.0 667.8,633.6 668.8,633.2 669.8,632.8 670.8,632.4 671.8,632.0 672.8,631.6 673.8,631.2 674.8,630.8 675.8,630.4 676.8,630.0 677.8,629.6 678.8,629.2 679.8,628.7 680.8,628.3 681.8,627.9 682.8,627.5 683.8,627.1 684.8,626.7 685.8,626.3 686.8,625.9 687.8,625.5 688.8,625.1 689.8,624.6 690.8,624.2 691.8,623.8 692.8,623.4 693.8,623.0 694.8,622.6 695.8,622.2 696.8,621.7 697.8,621.3 698.8,620.9 699.8,620.5 700.8,620.1 701.8,619.7 702.8,619.2 703.8,618.8 704.8,618.4 705.8,618.0 706.8,617.5 707.8,617.1 708.8,616.7 709.8,616.3 710.8,615.9 711.8,615.4 712.8,615.0 713.8,614.6 714.8,614.2 715.8,613.7 716.8,613.3 717.8,612.9 718.8,612.5 719.8,612.0 720.8,611.6 721.8,611.2 722.8,610.7 723.8,610.3 724.8,609.9 725.8,609.4 726.8,609.0 727.8,608.6 728.8,608.1 729.8,607.7 730.8,607.3 731.8,606.8 732.8,606.4 733.8,606.0 734.8,605.5 735.8,605.1 736.8,604.7 737.8,604.2 738.8,603.8 739.8,603.4 740.8,602.9 741.8,602.5 742.8,602.0 743.8,601.6 744.8,601.2 745.8,600.7 746.8,600.3 747.8,599.8 748.8,599.4 749.8,599.0 750.8,598.5 751.8,598.1 752.8,597.6 753.8,597.2 754.8,596.7 755.8,596.3 756.8,595.8 757.8,595.4 758.8,595.0 759.8,594.5 760.8,594.1 761.8,593.6 762.8,593.2 763.8,592.7 764.8,592.3 765.8,591.8 766.8,591.4 767.8,590.9 768.8,590.5 769.8,590.0 770.8,589.6 771.8,589.1 772.8,588.7 773.8,588.2 774.8,587.7 775.8,587.3 776.8,586.8 777.8,586.4 778.8,585.9 779.8,585.5 780.8,585.0 781.8,584.6 782.8,584.1 783.8,583.6 784.8,583.2 785.8,582.7 786.8,582.3 787.8,581.8 788.8,581.3 789.8,580.9 790.8,580.4 791.8,580.0 792.8,579.5 793.8,579.0 794.8,578.6 795.8,578.1 796.8,577.6 797.8,577.2 798.8,576.7 799.8,576.3 800.8,575.8 801.8,575.3 802.8,574.9 803.8,574.4 804.8,573.9 805.8,573.5 806.8,573.0 807.8,572.5 808.8,572.0 809.8,571.6 810.8,571.1 811.8,570.6 812.8,570.2 813.8,569.7 814.8,569.2 815.8,568.8 816.8,568.3 817.8,567.8 818.8,567.3 819.8,566.9 820.8,566.4 821.8,565.9 822.8,565.4 823.8,565.0 824.8,564.5 825.8,564.0 826.8,563.5 827.8,563.1 828.8,562.6 829.8,562.1 830.8,561.6 831.8,561.1 832.8,560.7 833.8,560.2 834.8,559.7 835.8,559.2 836.8,558.8 837.8,558.3 838.8,557.8 839.8,557.3 840.8,556.8 841.8,556.3 842.8,555.9 843.8,555.4 844.8,554.9 845.8,554.4 846.8,553.9 847.8,553.4 848.8,553.0 849.8,552.5 850.8,552.0 851.8,551.5 852.8,551.0 853.8,550.5 854.8,550.0 855.8,549.5 856.8,549.1 857.8,548.6 858.8,548.1 859.8,547.6 860.8,547.1 861.8,546.6 862.8,546.1 863.8,545.6 864.8,545.1 865.8,544.6 866.8,544.2 867.8,543.7 868.8,543.2 869.8,542.7 870.8,542.2 871.8,541.7 872.8,541.2 873.8,540.7 874.8,540.2 875.8,539.7 876.8,539.2 877.8,538.7 878.8,538.2 879.8,537.7 880.8,537.2 881.8,536.7 882.8,536.2 883.8,535.7 884.8,535.2 885.8,534.7 886.8,534.2 887.8,533.7 888.8,533.2 889.8,532.7 890.8,532.2 891.8,531.7 892.8,531.2 893.8,530.7 894.8,530.2 895.8,529.7 896.8,529.2 897.8,528.7 898.8,528.2 899.8,527.7 900.8,527.2 901.8,526.7 902.8,526.2 903.8,525.7 904.8,525.2 905.8,524.7 906.8,524.2 907.8,523.7 908.8,523.2 909.8,522.7 910.8,522.1 911.8,521.6 912.8,521.1 913.8,520.6 914.8,520.1 915.8,519.6 916.8,519.1 917.8,518.6 918.8,518.1 919.8,517.6 920.8,517.1 921.8,516.5 922.8,516.0 923.8,515.5 924.8,515.0 925.8,514.5 926.8,514.0 927.8,513.5 928.8,512.9 929.8,512.4 930.8,511.9 931.8,511.4 932.8,510.9 933.8,510.4 934.8,509.9 935.8,509.3 936.8,508.8 937.8,508.3 938.8,507.8 939.8,507.3 940.8,506.8 941.8,506.2 942.8,505.7 943.8,505.2 944.8,504.7 945.8,504.2 946.8,503.6 947.8,503.1 948.8,502.6 949.8,502.1 950.8,501.6 951.8,501.0 952.8,500.5 953.8,500.0 954.8,499.5 955.8,499.0 956.8,498.4 957.8,497.9 958.8,497.4 959.8,496.9 960.8,496.3 961.8,495.8 962.8,495.3 963.8,494.8 964.8,494.2 965.8,493.7 966.8,493.2 967.8,492.7 968.8,492.1 969.8,491.6 970.8,491.1 971.8,490.6 972.8,490.0 973.8,489.5 974.8,489.0 975.8,488.5 976.8,487.9 977.8,487.4 978.8,486.9 979.8,486.3 980.8,485.8 981.8,485.3 982.8,484.7 983.8,484.2 984.8,483.7 985.8,483.2 986.8,482.6 987.8,482.1 988.8,481.6 989.8,481.0 990.8,480.5 991.8,480.0 992.8,479.4 993.8,478.9 994.8,478.4 995.8,477.8 996.8,477.3 997.8,476.8 998.8,476.2 999.8,475.7 1000.8,475.2 1001.8,474.6 1002.8,474.1 1003.8,473.6 1004.8,473.0 1005.8,472.5 1006.8,471.9 1007.8,471.4 1008.8,470.9 1009.8,470.3 1010.8,469.8 1011.8,469.3 1012.8,468.7 1013.8,468.2 1014.8,467.6 1015.8,467.1 1016.8,466.6 1017.8,466.0 1018.8,465.5 1019.8,464.9 1020.8,464.4 1021.8,463.9 1022.8,463.3 1023.8,462.8 1024.8,462.2 1025.8,461.7 1026.8,461.2 1027.8,460.6 1028.8,460.1 1029.8,459.5 1030.8,459.0 1031.8,458.4 1032.8,457.9 1033.8,457.4 1034.8,456.8 1035.8,456.3 1036.8,455.7 1037.8,455.2 1038.8,454.6 1039.8,454.1 1040.8,453.6 1041.8,453.0 1042.8,452.5 1043.8,451.9 1044.8,451.4 1045.8,450.8 1046.8,450.3 1047.8,449.7 1048.8,449.2 1049.8,448.6 1050.8,448.1 1051.8,447.5 1052.8,447.0 1053.8,446.4 1054.8,445.9 1055.8,445.4 1056.8,444.8 1057.8,444.3 1058.8,443.7 1059.8,443.2 1060.8,442.6 1061.8,442.1 1062.8,441.5 1063.8,441.0 1064.8,440.4 1065.8,439.9 1066.8,439.3 1067.8,438.8 1068.8,438.2 1069.8,437.7 1070.8,437.1 1071.8,436.5 1072.8,436.0 1073.8,435.4 1074.8,434.9 1075.8,434.3 1076.8,433.8 1077.8,433.2 1078.8,432.7 1079.8,432.1 1080.8,431.6 1081.8,431.0 1082.8,430.5 1083.8,429.9 1084.8,429.4 1085.8,428.8 1086.8,428.3 1087.8,427.7 1088.8,427.1 1089.8,426.6 1090.8,426.0 1091.8,425.5 1092.8,424.9 1093.8,424.4 1094.8,423.8 1095.8,423.3 1096.8,422.7 1097.8,422.1 1098.8,421.6 1099.8,421.0 1100.8,420.5 1101.8,419.9 1102.8,419.4 1103.8,418.8 1104.8,418.2 1105.8,417.7 1106.8,417.1 1107.8,416.6 1108.8,416.0 1109.8,415.4 1110.8,414.9 1111.8,414.3 1112.8,413.8 1113.8,413.2 1114.8,412.6 1115.8,412.1 1116.8,411.5 1117.8,411.0 1118.8,410.4 1119.8,409.8 1120.8,409.3 1121.8,408.7 1122.8,408.2 1123.8,407.6 1124.8,407.0 1125.8,406.5 1126.8,405.9 1127.8,405.4 1128.8,404.8 1129.8,404.2 1130.8,403.7 1131.8,403.1 1132.8,402.6 1133.8,402.0 1134.8,401.4 1135.8,400.9 1136.8,400.3 1137.8,399.7 1138.8,399.2 1139.8,398.6 1140.8,398.0 1141.8,397.5 1142.8,396.9 1143.8,396.4 1144.8,395.8 1145.8,395.2 1146.8,394.7 1147.8,394.1 1148.8,393.5 1149.8,393.0 1150.8,392.4 1151.8,391.8 1152.8,391.3 1153.8,390.7 1154.8,390.1 1155.8,389.6 1156.8,389.0 1157.8,388.4 1158.8,387.9 1159.8,387.3 1160.8,386.7 1161.8,386.2 1162.8,385.6 1163.8,385.0 1164.8,384.5 1165.8,383.9 1166.8,383.3 1167.8,382.8 1168.8,382.2 1169.8,381.6 1170.8,381.1 1171.8,380.5 1172.8,379.9 1173.8,379.4 1174.8,378.8 1175.8,378.2 1176.8,377.7 1177.8,377.1 1178.8,376.5 1179.8,376.0 1180.8,375.4 1181.8,374.8 1182.8,374.3 1183.8,373.7 1184.8,373.1 1185.8,372.5 1186.8,372.0 1187.8,371.4 1188.8,370.8 1189.8,370.3 1190.8,369.7 1191.8,369.1 1192.8,368.6 1193.8,368.0 1194.8,367.4 1195.8,366.9 1196.8,366.3 1197.8,365.7 1198.8,365.1 1199.8,364.6 1200.8,364.0 1201.8,363.4 1202.8,362.9 1203.8,362.3 1204.8,361.7 1205.8,361.1 1206.8,360.6 1207.8,360.0 1208.8,359.4 1209.8,358.9 1210.8,358.3 1211.8,357.7 1212.8,357.1 1213.8,356.6 1214.8,356.0 1215.8,355.4 1216.8,354.9 1217.8,354.3 1218.8,353.7 1219.8,353.1 1220.8,352.6 1221.8,352.0 1222.8,351.4 1223.8,350.9 1224.8,350.3 1225.8,349.7 1226.8,349.1 1227.8,348.6 1228.8,348.0 1229.8,347.4 1230.8,346.8 1231.8,346.3 1232.8,345.7 1233.8,345.1 1234.8,344.6 1235.8,344.0 1236.8,343.4 1237.8,342.8 1238.8,342.3 1239.8,341.7 1240.8,341.1 1241.8,340.5 1242.8,340.0 1243.8,339.4 1244.8,338.8 1245.8,338.2 1246.8,337.7 1247.8,337.1 1248.8,336.5 1249.8,335.9 1250.8,335.4 1251.8,334.8 1252.8,334.2 1253.8,333.6 1254.8,333.1 1255.8,332.5 1256.8,331.9 1257.8,331.4 1258.8,330.8 1259.8,330.2 1260.8,329.6 1261.8,329.1 1262.8,328.5 1263.8,327.9 1264.8,327.3 1265.8,326.8 1266.8,326.2 1267.8,325.6 1268.8,325.0 1269.8,324.5 1270.8,323.9 1271.8,323.3 1272.8,322.7 1273.8,322.2 1274.8,321.6 1275.8,321.0 1276.8,320.4 1277.8,319.9 1278.8,319.3 1279.8,318.7 1280.8,318.1 1281.8,317.6 1282.8,317.0 1283.8,316.4" fill="none" stroke="#231f20" stroke-width="1.4" stroke-dasharray="13.8 8.8" stroke-dashoffset="22.1"/>
<polyline points="296.6,746.3 297.6,746.2 298.6,746.1 299.6,746.0 300.6,745.9 301.6,745.7 302.6,745.6 303.6,745.5 304.6,745.4 305.6,745.2 306.6,745.1 307.6,745.0 308.6,744.9 309.6,744.7 310.6,744.6 311.6,744.5 312.6,744.4 313.6,744.2 314.6,744.1 315.6,744.0 316.6,743.8 317.6,743.7 318.6,743.6 319.6,743.4 320.6,743.3 321.6,743.2 322.6,743.0 323.6,742.9 324.6,742.8 325.6,742.6 326.6,742.5 327.6,742.3 328.6,742.2 329.6,742.1 330.6,741.9 331.6,741.8 332.6,741.6 333.6,741.5 334.6,741.4 335.6,741.2 336.6,741.1 337.6,740.9 338.6,740.8 339.6,740.6 340.6,740.5 341.6,740.3 342.6,740.2 343.6,740.0 344.6,739.9 345.6,739.7 346.6,739.6 347.6,739.4 348.6,739.3 349.6,739.1 350.6,739.0 351.6,738.8 352.6,738.6 353.6,738.5 354.6,738.3 355.6,738.2 356.6,738.0 357.6,737.8 358.6,737.7 359.6,737.5 360.6,737.4 361.6,737.2 362.6,737.0 363.6,736.9 364.6,736.7 365.6,736.5 366.6,736.4 367.6,736.2 368.6,736.0 369.6,735.9 370.6,735.7 371.6,735.5 372.6,735.4 373.6,735.2 374.6,735.0 375.6,734.8 376.6,734.7 377.6,734.5 378.6,734.3 379.6,734.1 380.6,734.0 381.6,733.8 382.6,733.6 383.6,733.4 384.6,733.3 385.6,733.1 386.6,732.9 387.6,732.7 388.6,732.5 389.6,732.4 390.6,732.2 391.6,732.0 392.6,731.8 393.6,731.6 394.6,731.4 395.6,731.2 396.6,731.1 397.6,730.9 398.6,730.7 399.6,730.5 400.6,730.3 401.6,730.1 402.6,729.9 403.6,729.7 404.6,729.5 405.6,729.3 406.6,729.2 407.6,729.0 408.6,728.8 409.6,728.6 410.6,728.4 411.6,728.2 412.6,728.0 413.6,727.8 414.6,727.6 415.6,727.4 416.6,727.2 417.6,727.0 418.6,726.8 419.6,726.6 420.6,726.4 421.6,726.2 422.6,726.0 423.6,725.8 424.6,725.5 425.6,725.3 426.6,725.1 427.6,724.9 428.6,724.7 429.6,724.5 430.6,724.3 431.6,724.1 432.6,723.9 433.6,723.7 434.6,723.4 435.6,723.2 436.6,723.0 437.6,722.8 438.6,722.6 439.6,722.4 440.6,722.2 441.6,721.9 442.6,721.7 443.6,721.5 444.6,721.3 445.6,721.1 446.6,720.8 447.6,720.6 448.6,720.4 449.6,720.2 450.6,719.9 451.6,719.7 452.6,719.5 453.6,719.3 454.6,719.0 455.6,718.8 456.6,718.6 457.6,718.4 458.6,718.1 459.6,717.9 460.6,717.7 461.6,717.4 462.6,717.2 463.6,717.0 464.6,716.7 465.6,716.5 466.6,716.3 467.6,716.0 468.6,715.8 469.6,715.6 470.6,715.3 471.6,715.1 472.6,714.9 473.6,714.6 474.6,714.4 475.6,714.1 476.6,713.9 477.6,713.6 478.6,713.4 479.6,713.2 480.6,712.9 481.6,712.7 482.6,712.4 483.6,712.2 484.6,711.9 485.6,711.7 486.6,711.4 487.6,711.2 488.6,710.9 489.6,710.7 490.6,710.4 491.6,710.2 492.6,709.9 493.6,709.7 494.6,709.4 495.6,709.2 496.6,708.9 497.6,708.7 498.6,708.4 499.6,708.2 500.6,707.9 501.6,707.6 502.6,707.4 503.6,707.1 504.6,706.9 505.6,706.6 506.6,706.3 507.6,706.1 508.6,705.8 509.6,705.6 510.6,705.3 511.6,705.0 512.6,704.8 513.6,704.5 514.6,704.2 515.6,704.0 516.6,703.7 517.6,703.4 518.6,703.2 519.6,702.9 520.6,702.6 521.6,702.4 522.6,702.1 523.6,701.8 524.6,701.5 525.6,701.3 526.6,701.0 527.6,700.7 528.6,700.4 529.6,700.2 530.6,699.9 531.6,699.6 532.6,699.3 533.6,699.1 534.6,698.8 535.6,698.5 536.6,698.2 537.6,697.9 538.6,697.7 539.6,697.4 540.6,697.1 541.6,696.8 542.6,696.5 543.6,696.2 544.6,696.0 545.6,695.7 546.6,695.4 547.6,695.1 548.6,694.8 549.6,694.5 550.6,694.2 551.6,693.9 552.6,693.6 553.6,693.4 554.6,693.1 555.6,692.8 556.6,692.5 557.6,692.2 558.6,691.9 559.6,691.6 560.6,691.3 561.6,691.0 562.6,690.7 563.6,690.4 564.6,690.1 565.6,689.8 566.6,689.5 567.6,689.2 568.6,688.9 569.6,688.6 570.6,688.3 571.6,688.0 572.6,687.7 573.6,687.4 574.6,687.1 575.6,686.8 576.6,686.5 577.6,686.2 578.6,685.9 579.6,685.6 580.6,685.3 581.6,684.9 582.6,684.6 583.6,684.3 584.6,684.0 585.6,683.7 586.6,683.4 587.6,683.1 588.6,682.8 589.6,682.4 590.6,682.1 591.6,681.8 592.6,681.5 593.6,681.2 594.6,680.9 595.6,680.6 596.6,680.2 597.6,679.9 598.6,679.6 599.6,679.3 600.6,679.0 601.6,678.6 602.6,678.3 603.6,678.0 604.6,677.7 605.6,677.3 606.6,677.0 607.6,676.7 608.6,676.4 609.6,676.0 610.6,675.7 611.6,675.4 612.6,675.1 613.6,674.7 614.6,674.4 615.6,674.1 616.6,673.7 617.6,673.4 618.6,673.1 619.6,672.8 620.6,672.4 621.6,672.1 622.6,671.8 623.6,671.4 624.6,671.1 625.6,670.7 626.6,670.4 627.6,670.1 628.6,669.7 629.6,669.4 630.6,669.1 631.6,668.7 632.6,668.4 633.6,668.0 634.6,667.7 635.6,667.4 636.6,667.0 637.6,666.7 638.6,666.3 639.6,666.0 640.6,665.6 641.6,665.3 642.6,665.0 643.6,664.6 644.6,664.3 645.6,663.9 646.6,663.6 647.6,663.2 648.6,662.9 649.6,662.5 650.6,662.2 651.6,661.8 652.6,661.5 653.6,661.1 654.6,660.8 655.6,660.4 656.6,660.0 657.6,659.7 658.6,659.3 659.6,659.0 660.6,658.6 661.6,658.3 662.6,657.9 663.6,657.6 664.6,657.2 665.6,656.8 666.6,656.5 667.6,656.1 668.6,655.8 669.6,655.4 670.6,655.0 671.6,654.7 672.6,654.3 673.6,653.9 674.6,653.6 675.6,653.2 676.6,652.8 677.6,652.5 678.6,652.1 679.6,651.7 680.6,651.4 681.6,651.0 682.6,650.6 683.6,650.3 684.6,649.9 685.6,649.5 686.6,649.2 687.6,648.8 688.6,648.4 689.6,648.0 690.6,647.7 691.6,647.3 692.6,646.9 693.6,646.5 694.6,646.2 695.6,645.8 696.6,645.4 697.6,645.0 698.6,644.7 699.6,644.3 700.6,643.9 701.6,643.5 702.6,643.1 703.6,642.8 704.6,642.4 705.6,642.0 706.6,641.6 707.6,641.2 708.6,640.9 709.6,640.5 710.6,640.1 711.6,639.7 712.6,639.3 713.6,638.9 714.6,638.5 715.6,638.2 716.6,637.8 717.6,637.4 718.6,637.0 719.6,636.6 720.6,636.2 721.6,635.8 722.6,635.4 723.6,635.0 724.6,634.6 725.6,634.3 726.6,633.9 727.6,633.5 728.6,633.1 729.6,632.7 730.6,632.3 731.6,631.9 732.6,631.5 733.6,631.1 734.6,630.7 735.6,630.3 736.6,629.9 737.6,629.5 738.6,629.1 739.6,628.7 740.6,628.3 741.6,627.9 742.6,627.5 743.6,627.1 744.6,626.7 745.6,626.3 746.6,625.9 747.6,625.5 748.6,625.1 749.6,624.7 750.6,624.3 751.6,623.9 752.6,623.4 753.6,623.0 754.6,622.6 755.6,622.2 756.6,621.8 757.6,621.4 758.6,621.0 759.6,620.6 760.6,620.2 761.6,619.8 762.6,619.3 763.6,618.9 764.6,618.5 765.6,618.1 766.6,617.7 767.6,617.3 768.6,616.9 769.6,616.4 770.6,616.0 771.6,615.6 772.6,615.2 773.6,614.8 774.6,614.4 775.6,613.9 776.6,613.5 777.6,613.1 778.6,612.7 779.6,612.3 780.6,611.8 781.6,611.4 782.6,611.0 783.6,610.6 784.6,610.1 785.6,609.7 786.6,609.3 787.6,608.9 788.6,608.4 789.6,608.0 790.6,607.6 791.6,607.2 792.6,606.7 793.6,606.3 794.6,605.9 795.6,605.5 796.6,605.0 797.6,604.6 798.6,604.2 799.6,603.7 800.6,603.3 801.6,602.9 802.6,602.4 803.6,602.0 804.6,601.6 805.6,601.1 806.6,600.7 807.6,600.3 808.6,599.8 809.6,599.4 810.6,599.0 811.6,598.5 812.6,598.1 813.6,597.7 814.6,597.2 815.6,596.8 816.6,596.3 817.6,595.9 818.6,595.5 819.6,595.0 820.6,594.6 821.6,594.1 822.6,593.7 823.6,593.2 824.6,592.8 825.6,592.4 826.6,591.9 827.6,591.5 828.6,591.0 829.6,590.6 830.6,590.1 831.6,589.7 832.6,589.2 833.6,588.8 834.6,588.3 835.6,587.9 836.6,587.5 837.6,587.0 838.6,586.6 839.6,586.1 840.6,585.7 841.6,585.2 842.6,584.8 843.6,584.3 844.6,583.8 845.6,583.4 846.6,582.9 847.6,582.5 848.6,582.0 849.6,581.6 850.6,581.1 851.6,580.7 852.6,580.2 853.6,579.8 854.6,579.3 855.6,578.8 856.6,578.4 857.6,577.9 858.6,577.5 859.6,577.0 860.6,576.6 861.6,576.1 862.6,575.6 863.6,575.2 864.6,574.7 865.6,574.2 866.6,573.8 867.6,573.3 868.6,572.9 869.6,572.4 870.6,571.9 871.6,571.5 872.6,571.0 873.6,570.5 874.6,570.1 875.6,569.6 876.6,569.1 877.6,568.7 878.6,568.2 879.6,567.7 880.6,567.3 881.6,566.8 882.6,566.3 883.6,565.9 884.6,565.4 885.6,564.9 886.6,564.5 887.6,564.0 888.6,563.5 889.6,563.0 890.6,562.6 891.6,562.1 892.6,561.6 893.6,561.2 894.6,560.7 895.6,560.2 896.6,559.7 897.6,559.3 898.6,558.8 899.6,558.3 900.6,557.8 901.6,557.3 902.6,556.9 903.6,556.4 904.6,555.9 905.6,555.4 906.6,555.0 907.6,554.5 908.6,554.0 909.6,553.5 910.6,553.0 911.6,552.6 912.6,552.1 913.6,551.6 914.6,551.1 915.6,550.6 916.6,550.1 917.6,549.7 918.6,549.2 919.6,548.7 920.6,548.2 921.6,547.7 922.6,547.2 923.6,546.8 924.6,546.3 925.6,545.8 926.6,545.3 927.6,544.8 928.6,544.3 929.6,543.8 930.6,543.3 931.6,542.9 932.6,542.4 933.6,541.9 934.6,541.4 935.6,540.9 936.6,540.4 937.6,539.9 938.6,539.4 939.6,538.9 940.6,538.4 941.6,538.0 942.6,537.5 943.6,537.0 944.6,536.5 945.6,536.0 946.6,535.5 947.6,535.0 948.6,534.5 949.6,534.0 950.6,533.5 951.6,533.0 952.6,532.5 953.6,532.0 954.6,531.5 955.6,531.0 956.6,530.5 957.6,530.0 958.6,529.5 959.6,529.0 960.6,528.5 961.6,528.0 962.6,527.5 963.6,527.0 964.6,526.5 965.6,526.0 966.6,525.5 967.6,525.0 968.6,524.5 969.6,524.0 970.6,523.5 971.6,523.0 972.6,522.5 973.6,522.0 974.6,521.5 975.6,521.0 976.6,520.5 977.6,520.0 978.6,519.5 979.6,519.0 980.6,518.5 981.6,518.0 982.6,517.4 983.6,516.9 984.6,516.4 985.6,515.9 986.6,515.4 987.6,514.9 988.6,514.4 989.6,513.9 990.6,513.4 991.6,512.9 992.6,512.4 993.6,511.9 994.6,511.3 995.6,510.8 996.6,510.3 997.6,509.8 998.6,509.3 999.6,508.8 1000.6,508.3 1001.6,507.8 1002.6,507.2 1003.6,506.7 1004.6,506.2 1005.6,505.7 1006.6,505.2 1007.6,504.7 1008.6,504.2 1009.6,503.6 1010.6,503.1 1011.6,502.6 1012.6,502.1 1013.6,501.6 1014.6,501.1 1015.6,500.5 1016.6,500.0 1017.6,499.5 1018.6,499.0 1019.6,498.5 1020.6,497.9 1021.6,497.4 1022.6,496.9 1023.6,496.4 1024.6,495.9 1025.6,495.3 1026.6,494.8 1027.6,494.3 1028.6,493.8 1029.6,493.3 1030.6,492.7 1031.6,492.2 1032.6,491.7 1033.6,491.2 1034.6,490.6 1035.6,490.1 1036.6,489.6 1037.6,489.1 1038.6,488.6 1039.6,488.0 1040.6,487.5 1041.6,487.0 1042.6,486.5 1043.6,485.9 1044.6,485.4 1045.6,484.9 1046.6,484.3 1047.6,483.8 1048.6,483.3 1049.6,482.8 1050.6,482.2 1051.6,481.7 1052.6,481.2 1053.6,480.7 1054.6,480.1 1055.6,479.6 1056.6,479.1 1057.6,478.5 1058.6,478.0 1059.6,477.5 1060.6,477.0 1061.6,476.4 1062.6,475.9 1063.6,475.4 1064.6,474.8 1065.6,474.3 1066.6,473.8 1067.6,473.2 1068.6,472.7 1069.6,472.2 1070.6,471.6 1071.6,471.1 1072.6,470.6 1073.6,470.0 1074.6,469.5 1075.6,469.0 1076.6,468.4 1077.6,467.9 1078.6,467.4 1079.6,466.8 1080.6,466.3 1081.6,465.8 1082.6,465.2 1083.6,464.7 1084.6,464.2 1085.6,463.6 1086.6,463.1 1087.6,462.5 1088.6,462.0 1089.6,461.5 1090.6,460.9 1091.6,460.4 1092.6,459.9 1093.6,459.3 1094.6,458.8 1095.6,458.2 1096.6,457.7 1097.6,457.2 1098.6,456.6 1099.6,456.1 1100.6,455.5 1101.6,455.0 1102.6,454.5 1103.6,453.9 1104.6,453.4 1105.6,452.8 1106.6,452.3 1107.6,451.8 1108.6,451.2 1109.6,450.7 1110.6,450.1 1111.6,449.6 1112.6,449.1 1113.6,448.5 1114.6,448.0 1115.6,447.4 1116.6,446.9 1117.6,446.3 1118.6,445.8 1119.6,445.3 1120.6,444.7 1121.6,444.2 1122.6,443.6 1123.6,443.1 1124.6,442.5 1125.6,442.0 1126.6,441.4 1127.6,440.9 1128.6,440.4 1129.6,439.8 1130.6,439.3 1131.6,438.7 1132.6,438.2 1133.6,437.6 1134.6,437.1 1135.6,436.5 1136.6,436.0 1137.6,435.4 1138.6,434.9 1139.6,434.3 1140.6,433.8 1141.6,433.3 1142.6,432.7 1143.6,432.2 1144.6,431.6 1145.6,431.1 1146.6,430.5 1147.6,430.0 1148.6,429.4 1149.6,428.9 1150.6,428.3 1151.6,427.8 1152.6,427.2 1153.6,426.7 1154.6,426.1 1155.6,425.6 1156.6,425.0 1157.6,424.5 1158.6,423.9 1159.6,423.4 1160.6,422.8 1161.6,422.3 1162.6,421.7 1163.6,421.2 1164.6,420.6 1165.6,420.1 1166.6,419.5 1167.6,419.0 1168.6,418.4 1169.6,417.9 1170.6,417.3 1171.6,416.8 1172.6,416.2 1173.6,415.7 1174.6,415.1 1175.6,414.5 1176.6,414.0 1177.6,413.4 1178.6,412.9 1179.6,412.3 1180.6,411.8 1181.6,411.2 1182.6,410.7 1183.6,410.1 1184.6,409.6 1185.6,409.0 1186.6,408.5 1187.6,407.9 1188.6,407.4 1189.6,406.8 1190.6,406.2 1191.6,405.7 1192.6,405.1 1193.6,404.6 1194.6,404.0 1195.6,403.5 1196.6,402.9 1197.6,402.4 1198.6,401.8 1199.6,401.3 1200.6,400.7 1201.6,400.1 1202.6,399.6 1203.6,399.0 1204.6,398.5 1205.6,397.9 1206.6,397.4 1207.6,396.8 1208.6,396.3 1209.6,395.7 1210.6,395.1 1211.6,394.6 1212.6,394.0 1213.6,393.5 1214.6,392.9 1215.6,392.4 1216.6,391.8 1217.6,391.2 1218.6,390.7 1219.6,390.1 1220.6,389.6 1221.6,389.0 1222.6,388.5 1223.6,387.9 1224.6,387.3 1225.6,386.8 1226.6,386.2 1227.6,385.7 1228.6,385.1 1229.6,384.6 1230.6,384.0 1231.6,383.4 1232.6,382.9 1233.6,382.3 1234.6,381.8 1235.6,381.2 1236.6,380.7 1237.6,380.1 1238.6,379.5 1239.6,379.0 1240.6,378.4 1241.6,377.9 1242.6,377.3 1243.6,376.7 1244.6,376.2 1245.6,375.6 1246.6,375.1 1247.6,374.5 1248.6,374.0 1249.6,373.4 1250.6,372.8 1251.6,372.3 1252.6,371.7 1253.6,371.2 1254.6,370.6 1255.6,370.0 1256.6,369.5 1257.6,368.9 1258.6,368.4 1259.6,367.8 1260.6,367.2 1261.6,366.7 1262.6,366.1 1263.6,365.6 1264.6,365.0 1265.6,364.4 1266.6,363.9 1267.6,363.3 1268.6,362.8 1269.6,362.2 1270.6,361.7" fill="none" stroke="#231f20" stroke-width="1.4" stroke-dasharray="13.8 8.8" stroke-dashoffset="22.1"/>
<circle cx="296.8" cy="695.0" r="5.4" fill="none" stroke="#231f20" stroke-width="1.6"/>
<path d="M290.3,727.3H303.3M296.8,720.8V733.8" stroke="#231f20" stroke-width="1.8" fill="none"/><path d="M292.5,723.0L301.1,731.6M292.5,731.6L301.1,723.0" stroke="#231f20" stroke-width="1.2" fill="none"/>
<path d="M290.4,739.3H303.2M296.8,732.9V745.7" stroke="#231f20" stroke-width="1.8" fill="none"/>
<circle cx="346.1" cy="678.8" r="5.4" fill="none" stroke="#231f20" stroke-width="1.6"/>
<path d="M339.6,714.4H352.6M346.1,707.9V720.9" stroke="#231f20" stroke-width="1.8" fill="none"/><path d="M341.8,710.1L350.4,718.7M341.8,718.7L350.4,710.1" stroke="#231f20" stroke-width="1.2" fill="none"/>
<path d="M339.8,731.2H352.5M346.1,724.8V737.6" stroke="#231f20" stroke-width="1.8" fill="none"/>
<circle cx="395.5" cy="660.3" r="5.4" fill="none" stroke="#231f20" stroke-width="1.6"/>
<path d="M389.0,701.8H402.0M395.5,695.3V708.3" stroke="#231f20" stroke-width="1.8" fill="none"/><path d="M391.2,697.5L399.8,706.1M391.2,706.1L399.8,697.5" stroke="#231f20" stroke-width="1.2" fill="none"/>
<path d="M389.1,720.0H401.9M395.5,713.6V726.4" stroke="#231f20" stroke-width="1.8" fill="none"/>
<circle cx="444.9" cy="639.8" r="5.4" fill="none" stroke="#231f20" stroke-width="1.6"/>
<path d="M438.4,686.1H451.4M444.9,679.6V692.6" stroke="#231f20" stroke-width="1.8" fill="none"/><path d="M440.6,681.8L449.2,690.4M440.6,690.4L449.2,681.8" stroke="#231f20" stroke-width="1.2" fill="none"/>
<path d="M438.5,708.7H451.2M444.9,702.3V715.1" stroke="#231f20" stroke-width="1.8" fill="none"/>
<circle cx="494.2" cy="618.5" r="5.4" fill="none" stroke="#231f20" stroke-width="1.6"/>
<path d="M487.7,670.4H500.7M494.2,663.9V676.9" stroke="#231f20" stroke-width="1.8" fill="none"/><path d="M489.9,666.1L498.5,674.7M489.9,674.7L498.5,666.1" stroke="#231f20" stroke-width="1.2" fill="none"/>
<path d="M487.8,694.4H500.6M494.2,688.0V700.8" stroke="#231f20" stroke-width="1.8" fill="none"/>
<circle cx="543.5" cy="596.0" r="5.4" fill="none" stroke="#231f20" stroke-width="1.6"/>
<path d="M537.0,652.4H550.0M543.5,645.9V658.9" stroke="#231f20" stroke-width="1.8" fill="none"/><path d="M539.2,648.1L547.8,656.7M539.2,656.7L547.8,648.1" stroke="#231f20" stroke-width="1.2" fill="none"/>
<path d="M537.1,678.6H549.9M543.5,672.2V685.0" stroke="#231f20" stroke-width="1.8" fill="none"/>
<circle cx="592.9" cy="571.4" r="5.4" fill="none" stroke="#231f20" stroke-width="1.6"/>
<path d="M586.4,632.6H599.4M592.9,626.1V639.1" stroke="#231f20" stroke-width="1.8" fill="none"/><path d="M588.6,628.3L597.2,636.9M588.6,636.9L597.2,628.3" stroke="#231f20" stroke-width="1.2" fill="none"/>
<path d="M586.5,662.6H599.3M592.9,656.2V669.0" stroke="#231f20" stroke-width="1.8" fill="none"/>
<circle cx="642.2" cy="546.4" r="5.4" fill="none" stroke="#231f20" stroke-width="1.6"/>
<path d="M635.8,611.4H648.8M642.2,604.9V617.9" stroke="#231f20" stroke-width="1.8" fill="none"/><path d="M638.0,607.1L646.5,615.7M638.0,615.7L646.5,607.1" stroke="#231f20" stroke-width="1.2" fill="none"/>
<path d="M635.9,644.0H648.6M642.2,637.6V650.4" stroke="#231f20" stroke-width="1.8" fill="none"/>
<circle cx="691.6" cy="520.9" r="5.4" fill="none" stroke="#231f20" stroke-width="1.6"/>
<path d="M685.1,589.0H698.1M691.6,582.5V595.5" stroke="#231f20" stroke-width="1.8" fill="none"/><path d="M687.3,584.7L695.9,593.3M687.3,593.3L695.9,584.7" stroke="#231f20" stroke-width="1.2" fill="none"/>
<path d="M685.2,624.3H698.0M691.6,617.9V630.7" stroke="#231f20" stroke-width="1.8" fill="none"/>
<circle cx="741.0" cy="494.5" r="5.4" fill="none" stroke="#231f20" stroke-width="1.6"/>
<path d="M734.5,564.3H747.5M741.0,557.8V570.8" stroke="#231f20" stroke-width="1.8" fill="none"/><path d="M736.7,560.0L745.2,568.6M736.7,568.6L745.2,560.0" stroke="#231f20" stroke-width="1.2" fill="none"/>
<path d="M734.6,602.9H747.4M741.0,596.5V609.3" stroke="#231f20" stroke-width="1.8" fill="none"/>
<circle cx="790.3" cy="467.4" r="5.4" fill="none" stroke="#231f20" stroke-width="1.6"/>
<path d="M783.8,541.0H796.8M790.3,534.5V547.5" stroke="#231f20" stroke-width="1.8" fill="none"/><path d="M786.0,536.7L794.6,545.3M786.0,545.3L794.6,536.7" stroke="#231f20" stroke-width="1.2" fill="none"/>
<path d="M783.9,579.8H796.7M790.3,573.4V586.2" stroke="#231f20" stroke-width="1.8" fill="none"/>
<circle cx="839.6" cy="440.0" r="5.4" fill="none" stroke="#231f20" stroke-width="1.6"/>
<path d="M833.1,515.5H846.1M839.6,509.0V522.0" stroke="#231f20" stroke-width="1.8" fill="none"/><path d="M835.3,511.2L843.9,519.8M835.3,519.8L843.9,511.2" stroke="#231f20" stroke-width="1.2" fill="none"/>
<path d="M833.2,557.6H846.0M839.6,551.2V564.0" stroke="#231f20" stroke-width="1.8" fill="none"/>
<circle cx="889.0" cy="411.9" r="5.4" fill="none" stroke="#231f20" stroke-width="1.6"/>
<path d="M882.5,488.6H895.5M889.0,482.1V495.1" stroke="#231f20" stroke-width="1.8" fill="none"/><path d="M884.7,484.3L893.3,492.9M884.7,492.9L893.3,484.3" stroke="#231f20" stroke-width="1.2" fill="none"/>
<path d="M882.6,533.3H895.4M889.0,526.9V539.7" stroke="#231f20" stroke-width="1.8" fill="none"/>
<circle cx="938.3" cy="383.6" r="5.4" fill="none" stroke="#231f20" stroke-width="1.6"/>
<path d="M931.8,461.5H944.8M938.3,455.0V468.0" stroke="#231f20" stroke-width="1.8" fill="none"/><path d="M934.0,457.2L942.6,465.8M934.0,465.8L942.6,457.2" stroke="#231f20" stroke-width="1.2" fill="none"/>
<path d="M931.9,507.8H944.7M938.3,501.4V514.2" stroke="#231f20" stroke-width="1.8" fill="none"/>
<circle cx="987.7" cy="354.3" r="5.4" fill="none" stroke="#231f20" stroke-width="1.6"/>
<path d="M981.2,435.0H994.2M987.7,428.5V441.5" stroke="#231f20" stroke-width="1.8" fill="none"/><path d="M983.4,430.7L992.0,439.3M983.4,439.3L992.0,430.7" stroke="#231f20" stroke-width="1.2" fill="none"/>
<path d="M981.3,481.5H994.1M987.7,475.1V487.9" stroke="#231f20" stroke-width="1.8" fill="none"/>
<circle cx="1037.0" cy="325.7" r="5.4" fill="none" stroke="#231f20" stroke-width="1.6"/>
<path d="M1030.5,406.7H1043.5M1037.0,400.2V413.2" stroke="#231f20" stroke-width="1.8" fill="none"/><path d="M1032.8,402.4L1041.3,411.0M1032.8,411.0L1041.3,402.4" stroke="#231f20" stroke-width="1.2" fill="none"/>
<path d="M1030.6,456.0H1043.5M1037.0,449.6V462.4" stroke="#231f20" stroke-width="1.8" fill="none"/>
<circle cx="1086.4" cy="296.0" r="5.4" fill="none" stroke="#231f20" stroke-width="1.6"/>
<path d="M1079.9,380.0H1092.9M1086.4,373.5V386.5" stroke="#231f20" stroke-width="1.8" fill="none"/><path d="M1082.1,375.7L1090.7,384.3M1082.1,384.3L1090.7,375.7" stroke="#231f20" stroke-width="1.2" fill="none"/>
<path d="M1080.0,429.3H1092.8M1086.4,422.9V435.7" stroke="#231f20" stroke-width="1.8" fill="none"/>
<circle cx="1135.8" cy="267.2" r="5.4" fill="none" stroke="#231f20" stroke-width="1.6"/>
<path d="M1129.2,350.3H1142.2M1135.8,343.8V356.8" stroke="#231f20" stroke-width="1.8" fill="none"/><path d="M1131.5,346.0L1140.0,354.6M1131.5,354.6L1140.0,346.0" stroke="#231f20" stroke-width="1.2" fill="none"/>
<path d="M1129.3,400.7H1142.2M1135.8,394.3V407.1" stroke="#231f20" stroke-width="1.8" fill="none"/>
<circle cx="1185.1" cy="237.5" r="5.4" fill="none" stroke="#231f20" stroke-width="1.6"/>
<path d="M1178.6,322.0H1191.6M1185.1,315.5V328.5" stroke="#231f20" stroke-width="1.8" fill="none"/><path d="M1180.8,317.7L1189.4,326.3M1180.8,326.3L1189.4,317.7" stroke="#231f20" stroke-width="1.2" fill="none"/>
<path d="M1178.7,372.6H1191.5M1185.1,366.2V379.0" stroke="#231f20" stroke-width="1.8" fill="none"/>
<circle cx="1234.5" cy="208.1" r="5.4" fill="none" stroke="#231f20" stroke-width="1.6"/>
<path d="M1228.0,293.9H1241.0M1234.5,287.4V300.4" stroke="#231f20" stroke-width="1.8" fill="none"/><path d="M1230.2,289.6L1238.8,298.2M1230.2,298.2L1238.8,289.6" stroke="#231f20" stroke-width="1.2" fill="none"/>
<path d="M1228.0,344.7H1240.9M1234.5,338.3V351.1" stroke="#231f20" stroke-width="1.8" fill="none"/>
<circle cx="1283.8" cy="178.4" r="5.4" fill="none" stroke="#231f20" stroke-width="1.6"/>
<path d="M1277.3,264.9H1290.3M1283.8,258.4V271.4" stroke="#231f20" stroke-width="1.8" fill="none"/><path d="M1279.5,260.6L1288.1,269.2M1279.5,269.2L1288.1,260.6" stroke="#231f20" stroke-width="1.2" fill="none"/>
<path d="M1277.4,316.5H1290.2M1283.8,310.1V322.9" stroke="#231f20" stroke-width="1.8" fill="none"/>
<polyline points="296.8,197.0 346.1,322.0 395.5,417.6 444.9,490.3 494.2,547.6 543.5,591.0 592.9,625.5 642.2,652.8 691.6,674.2 741.0,691.2 790.3,704.9 839.6,716.2 889.0,726.0 938.3,733.8 987.7,740.0 1037.0,745.1 1086.4,749.4 1135.8,752.9 1185.1,755.9 1234.5,758.3 1280.0,760.1" fill="none" stroke="#c8303a" stroke-width="1.6" stroke-linejoin="round"/>
<path d="M296.6,772.4V82.6H1280.5" fill="none" stroke="#231f20" stroke-width="2.8"/>
<path d="M295.2,772.4H1280.8" fill="none" stroke="#231f20" stroke-width="2.8"/>
<path d="M1280.5,81.2V771.2" fill="none" stroke="#da1f28" stroke-width="2.8"/>
<path d="M296.6,678.5H310.3" stroke="#231f20" stroke-width="2.6"/>
<path d="M296.6,586.7H310.3" stroke="#231f20" stroke-width="2.6"/>
<path d="M296.6,494.8H310.3" stroke="#231f20" stroke-width="2.6"/>
<path d="M296.6,403.0H310.3" stroke="#231f20" stroke-width="2.6"/>
<path d="M296.6,311.1H310.3" stroke="#231f20" stroke-width="2.6"/>
<path d="M296.6,219.2H310.3" stroke="#231f20" stroke-width="2.6"/>
<path d="M296.6,127.4H310.3" stroke="#231f20" stroke-width="2.6"/>
<path d="M393.5,772.4V758.6" stroke="#231f20" stroke-width="2.6"/>
<path d="M492.0,772.4V758.6" stroke="#231f20" stroke-width="2.6"/>
<path d="M590.5,772.4V758.6" stroke="#231f20" stroke-width="2.6"/>
<path d="M689.0,772.4V758.6" stroke="#231f20" stroke-width="2.6"/>
<path d="M787.6,772.4V758.6" stroke="#231f20" stroke-width="2.6"/>
<path d="M886.1,772.4V758.6" stroke="#231f20" stroke-width="2.6"/>
<path d="M984.6,772.4V758.6" stroke="#231f20" stroke-width="2.6"/>
<path d="M1083.1,772.4V758.6" stroke="#231f20" stroke-width="2.6"/>
<path d="M1181.6,772.4V758.6" stroke="#231f20" stroke-width="2.6"/>
<path d="M1280.5,633.5H1266.5" stroke="#da1f28" stroke-width="2.6"/>
<path d="M1280.5,495.5H1266.5" stroke="#da1f28" stroke-width="2.6"/>
<path d="M1280.5,357.5H1266.5" stroke="#da1f28" stroke-width="2.6"/>
<path d="M1280.5,219.5H1266.5" stroke="#da1f28" stroke-width="2.6"/>
<path d="M420.5,144.8H436M443.6,144.8H458.7M466.8,144.8H479.8" stroke="#231f20" stroke-width="1.75"/>
<circle cx="449.5" cy="144.2" r="6.2" fill="none" stroke="#231f20" stroke-width="1.3"/>
<path d="M420.5,206.0H436M443.6,206.0H458.7M466.8,206.0H479.8" stroke="#231f20" stroke-width="1.75"/>
<path d="M443.5,206.0H456.5M450.0,199.5V212.5" stroke="#231f20" stroke-width="1.8" fill="none"/><path d="M445.4,201.4L454.6,210.6M445.4,210.6L454.6,201.4" stroke="#231f20" stroke-width="1.2" fill="none"/>
<path d="M420.5,266.2H436M443.6,266.2H458.7M466.8,266.2H479.8" stroke="#231f20" stroke-width="1.75"/>
<path d="M443.3,266.2H456.3M449.8,259.7V272.7" stroke="#231f20" stroke-width="1.8" fill="none"/>
<path d="M420.5,325.5H436M443.6,325.5H458.7M466.8,325.5H479.8" stroke="#231f20" stroke-width="1.75"/>
<path d="M420.5,387.1H479.5" stroke="#c8303a" stroke-width="1.5"/>
<text id="L0" x="277.10" y="785.40" font-size="57" fill="#231f20" text-anchor="end">0</text>
<text id="L100" x="276.90" y="693.74" font-size="57" fill="#231f20" text-anchor="end">100</text>
<text id="L200" x="276.90" y="602.09" font-size="57" fill="#231f20" text-anchor="end">200</text>
<text id="L300" x="276.90" y="510.43" font-size="57" fill="#231f20" text-anchor="end">300</text>
<text id="L400" x="276.90" y="418.77" font-size="57" fill="#231f20" text-anchor="end">400</text>
<text id="L500" x="276.90" y="327.11" font-size="57" fill="#231f20" text-anchor="end">500</text>
<text id="L600" x="276.90" y="235.46" font-size="57" fill="#231f20" text-anchor="end">600</text>
<text id="L700" x="276.90" y="143.80" font-size="57" fill="#231f20" text-anchor="end">700</text>
<text id="B150" x="296.70" y="830.80" font-size="57" fill="#231f20" text-anchor="middle">150</text>
<text id="B170" x="492.92" y="830.80" font-size="57" fill="#231f20" text-anchor="middle">170</text>
<text id="B190" x="689.34" y="830.80" font-size="57" fill="#231f20" text-anchor="middle">190</text>
<text id="B210" x="884.66" y="830.80" font-size="57" fill="#231f20" text-anchor="middle">210</text>
<text id="B230" x="1081.08" y="830.80" font-size="57" fill="#231f20" text-anchor="middle">230</text>
<text id="B250" x="1277.80" y="830.80" font-size="57" fill="#231f20" text-anchor="middle">250</text>
<text id="R0" x="1298.20" y="783.00" font-size="57" fill="#da1f28" text-anchor="start">0</text>
<text id="R0.5" x="1297.10" y="645.60" font-size="57" fill="#da1f28" text-anchor="start">0.5</text>
<text id="R1.0" x="1296.80" y="508.00" font-size="57" fill="#da1f28" text-anchor="start">1.0</text>
<text id="R1.5" x="1296.80" y="370.50" font-size="57" fill="#da1f28" text-anchor="start">1.5</text>
<text id="R2.0" x="1297.30" y="232.90" font-size="57" fill="#da1f28" text-anchor="start">2.0</text>
<text id="R2.5" x="1296.80" y="95.50" font-size="57" fill="#da1f28" text-anchor="start">2.5</text>
<text id="Xtimes" x="1159.10" y="64.40" font-size="57" fill="#da1f28" text-anchor="start">×</text>
<text id="X10" x="1191.20" y="64.30" font-size="57" fill="#da1f28" text-anchor="start">10</text>
<text id="Xexp" x="1245.80" y="46.30" font-size="34" fill="#da1f28" text-anchor="start">−9</text>
<text id="hkm" x="729.30" y="907.50" font-size="57" fill="#231f20"><tspan font-style="italic">h</tspan>/km</text>
<text id="Th" transform="translate(156.10,427.00) rotate(-90)" font-size="57" fill="#231f20" text-anchor="middle"><tspan font-style="italic">T</tspan>/h</text>
<text id="rholab" transform="translate(1449.20,425.60) rotate(-90)" font-size="57" fill="#da1f28" text-anchor="middle"><tspan font-style="italic">ρ</tspan>/(kg·m<tspan font-size="34" dy="-18">−3</tspan><tspan dy="18">)</tspan></text>
<text id="C1" x="500.60" y="152.20" font-size="57" fill="#231f20" text-anchor="start" font-style="italic">C</text>
<text id="d1" x="536.70" y="164.00" font-size="34" fill="#231f20" text-anchor="start">d</text>
<text id="e1" transform="translate(565.00,149.00) scale(1.09,0.86)" font-size="57" fill="#231f20">=</text>
<text id="n1" x="610.70" y="152.20" font-size="57" fill="#231f20" text-anchor="start">1</text>
<text id="C2" x="500.60" y="214.20" font-size="57" fill="#231f20" text-anchor="start" font-style="italic">C</text>
<text id="d2" x="536.70" y="226.00" font-size="34" fill="#231f20" text-anchor="start">d</text>
<text id="e2" transform="translate(565.00,211.20) scale(1.09,0.86)" font-size="57" fill="#231f20">=</text>
<text id="n2" x="611.00" y="214.70" font-size="57" fill="#231f20" text-anchor="start">2</text>
<text id="C3" x="500.60" y="277.20" font-size="57" fill="#231f20" text-anchor="start" font-style="italic">C</text>
<text id="d3" x="536.70" y="289.00" font-size="34" fill="#231f20" text-anchor="start">d</text>
<text id="e3" transform="translate(565.00,274.00) scale(1.09,0.86)" font-size="57" fill="#231f20">=</text>
<text id="n3" x="610.00" y="277.30" font-size="57" fill="#231f20" text-anchor="start">3</text>
<text id="C4" x="500.60" y="339.20" font-size="57" fill="#231f20" text-anchor="start" font-style="italic">C</text>
<text id="d4" x="536.70" y="351.00" font-size="34" fill="#231f20" text-anchor="start">d</text>
<text id="e4" transform="translate(565.00,336.60) scale(1.09,0.86)" font-size="57" fill="#231f20">=</text>
<text id="n4" x="610.50" y="339.20" font-size="57" fill="#231f20" text-anchor="start">4</text>
<text id="rholeg" x="502.10" y="402.90" font-size="57" fill="#231f20" text-anchor="start" font-style="italic">ρ</text>
</svg></body></html>
